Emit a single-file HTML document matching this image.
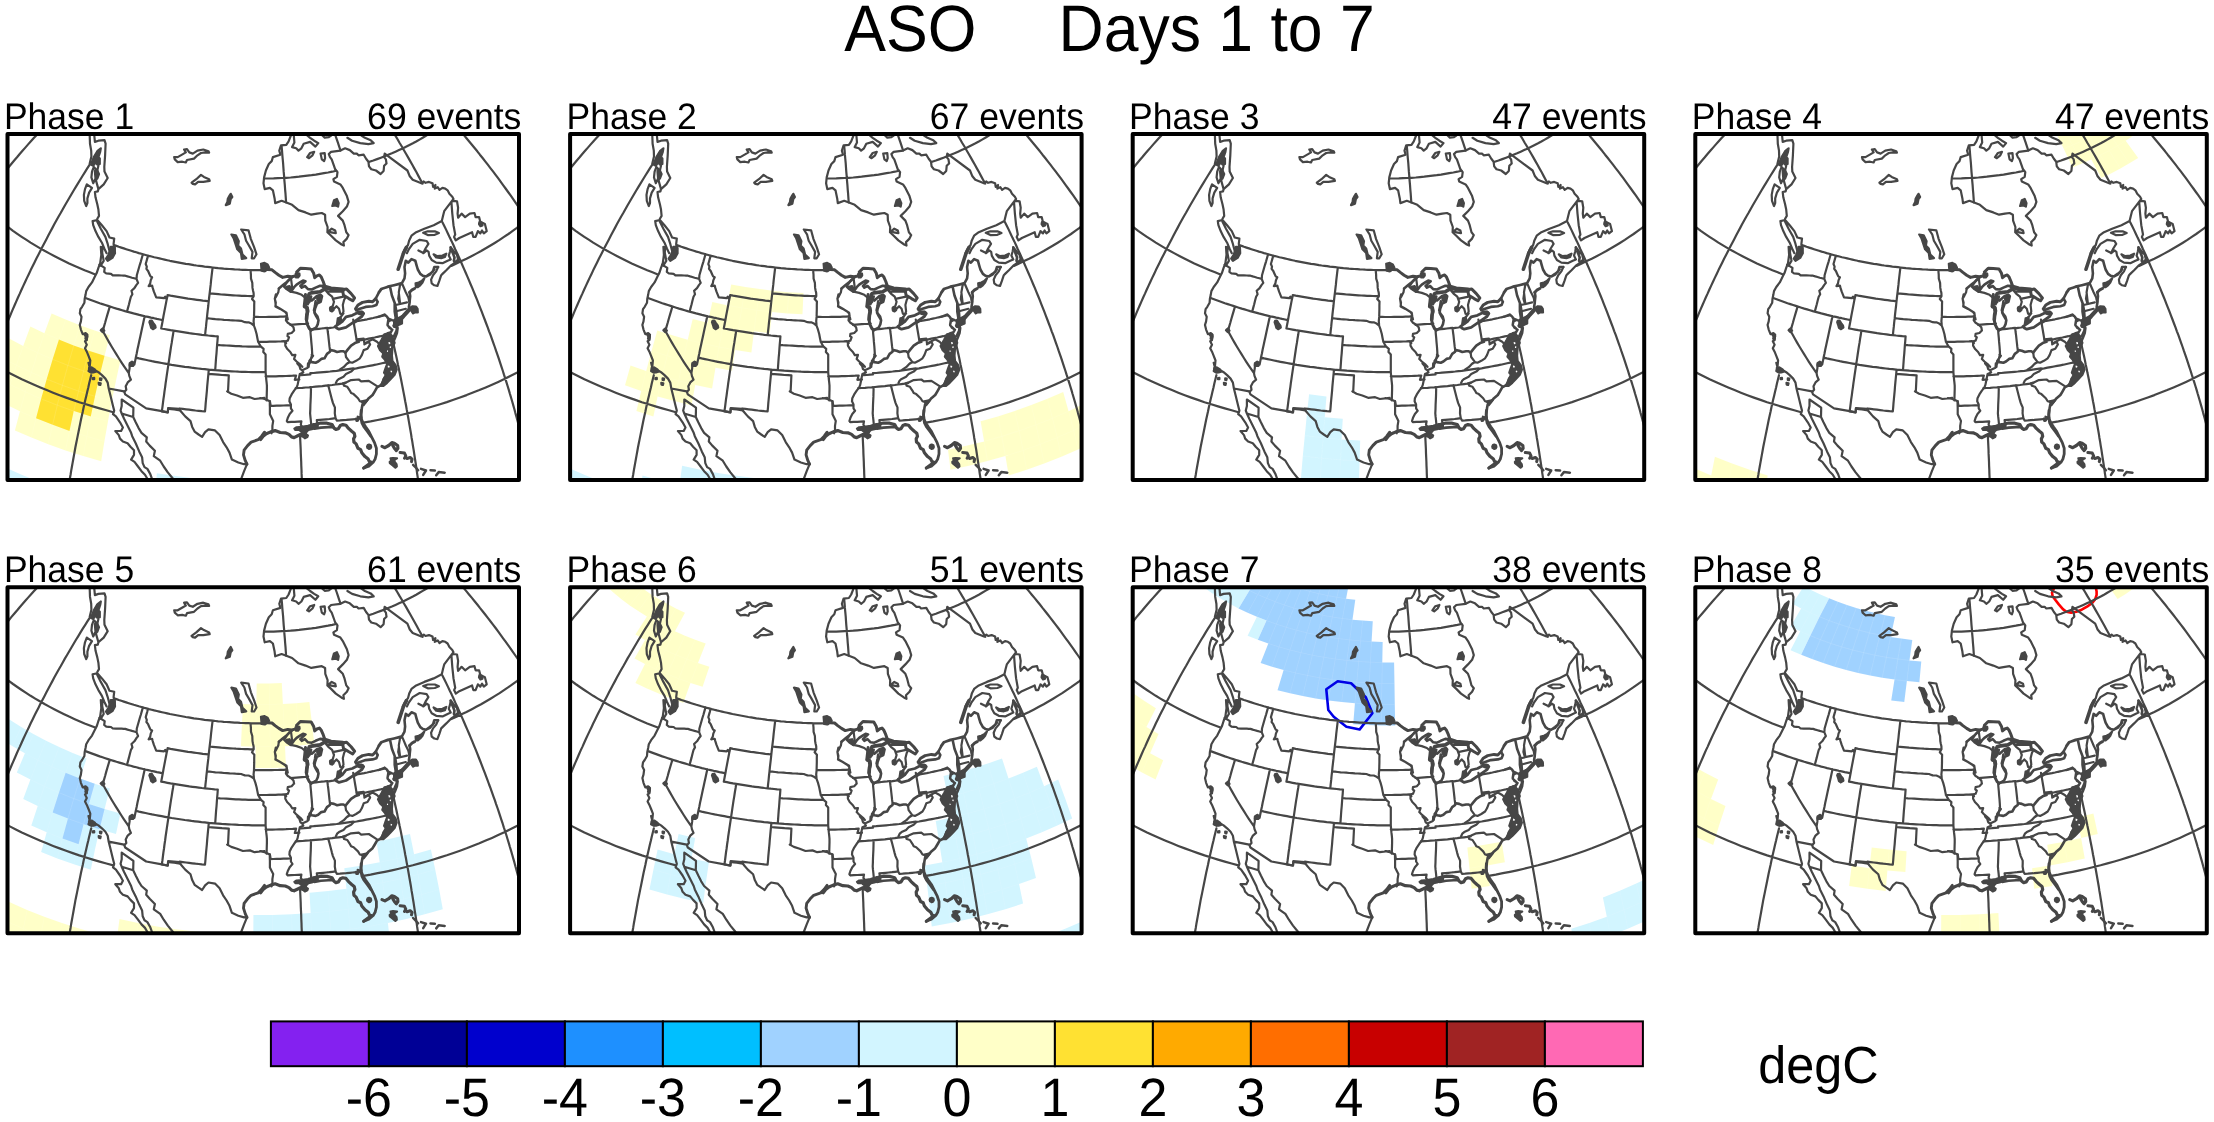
<!DOCTYPE html>
<html><head><meta charset="utf-8"><title>ASO Days 1 to 7</title>
<style>
html,body{margin:0;padding:0;background:#fff;}
body{width:2214px;height:1122px;overflow:hidden;}
svg{display:block;will-change:transform;}
text{font-family:"Liberation Sans",sans-serif;fill:#000;text-rendering:geometricPrecision;}
</style></head><body>
<svg width="2214" height="1122" viewBox="0 0 2214 1122">
<defs>
<clipPath id="pc"><rect x="0" y="0" width="511.5" height="346.0"/></clipPath>
<g id="basemap" fill="none" stroke="#464646" stroke-width="2.2" stroke-linejoin="round" stroke-linecap="round">
<path d="M-71.8,138.5 L-69.8,135.0 L-67.8,131.5 L-65.7,128.0 L-63.6,124.5 L-61.5,121.0 L-59.4,117.5 L-57.2,114.1 L-55.0,110.6 L-52.8,107.1 L-50.6,103.7 L-48.4,100.2 L-46.1,96.8 L-43.8,93.4 L-41.5,89.9 L-39.1,86.5 L-36.8,83.1 L-34.4,79.7 L-32.0,76.3 L-29.5,72.9 L-27.1,69.5 L-24.6,66.2 L-22.1,62.8 L-19.6,59.4 L-17.0,56.1 L-14.5,52.8 L-11.9,49.4 L-9.3,46.1 L-6.7,42.8 L-4.0,39.5 L-1.4,36.3 L1.3,33.0 L4.0,29.7 L6.7,26.5 L9.5,23.3 L12.2,20.0 L15.0,16.8 L17.8,13.6 L20.6,10.4 L23.4,7.3 L26.3,4.1 L29.2,1.0 L32.0,-2.2 L34.9,-5.3 L37.8,-8.4 L40.8,-11.5 L43.7,-14.5 L46.7,-17.6 L49.7,-20.6 L52.7,-23.6 L55.7,-26.6 L58.7,-29.6 L61.8,-32.6 L64.8,-35.6 L67.9,-38.5 L71.0,-41.4 L74.1,-44.3 L77.2,-47.2 L80.3,-50.1 L83.4,-53.0 L86.6,-55.8 L89.8,-58.6 L92.9,-61.4 L96.1,-64.2 L99.3,-66.9 L102.6,-69.7 L105.8,-72.4 L109.0,-75.1 L112.3,-77.8 L115.5,-80.5 L118.8,-83.1 L122.1,-85.7 L125.4,-88.3 L128.7,-90.9 L132.0,-93.5 L135.3,-96.0 L138.6,-98.5 L142.0,-101.0 L145.3,-103.5 L148.7,-105.9 L152.0,-108.4 M-16.0,229.3 L-14.6,225.4 L-13.2,221.5 L-11.8,217.6 L-10.3,213.8 L-8.8,209.9 L-7.3,206.0 L-5.8,202.1 L-4.2,198.2 L-2.7,194.3 L-1.1,190.5 L0.5,186.6 L2.2,182.7 L3.8,178.8 L5.5,174.9 L7.2,171.0 L8.9,167.1 L10.6,163.2 L12.4,159.4 L14.1,155.5 L15.9,151.6 L17.7,147.7 L19.5,143.9 L21.4,140.0 L23.2,136.1 L25.1,132.3 L27.0,128.4 L28.9,124.5 L30.9,120.7 L32.8,116.9 L34.8,113.0 L36.8,109.2 L38.8,105.4 L40.8,101.5 L42.8,97.7 L44.9,93.9 L46.9,90.1 L49.0,86.3 L51.1,82.5 L53.3,78.8 L55.4,75.0 L57.5,71.2 L59.7,67.5 L61.9,63.8 L64.1,60.0 L66.3,56.3 L68.5,52.6 L70.8,48.9 L73.0,45.2 L75.3,41.5 L77.6,37.9 L79.9,34.2 L82.2,30.6 M56.4,385.8 L56.8,382.1 L57.3,378.4 L57.8,374.7 L58.4,370.9 L58.9,367.2 L59.4,363.4 L60.0,359.6 L60.6,355.8 L61.2,352.0 L61.8,348.2 L62.4,344.3 L63.1,340.5 L63.7,336.6 L64.4,332.8 L65.1,328.9 L65.8,325.0 L66.5,321.1 L67.2,317.2 L67.9,313.2 L68.7,309.3 L69.5,305.4 L70.3,301.4 L71.1,297.5 L71.9,293.5 L72.7,289.5 L73.5,285.5 L74.4,281.5 L75.3,277.5 L76.1,273.5 L77.0,269.5 L77.9,265.5 L78.9,261.4 L79.8,257.4 L80.8,253.4 L81.7,249.3 L82.7,245.3 L83.7,241.2 M278.6,68.5 L278.3,64.1 L278.0,59.7 L277.6,55.3 L277.3,50.9 L276.9,46.6 L276.6,42.2 L276.2,37.9 L275.9,33.6 L275.6,29.2 L275.2,25.0 L274.8,20.7 L274.5,16.4 L274.1,12.2 M296.6,414.8 L296.5,411.0 L296.4,407.2 L296.3,403.3 L296.1,399.5 L296.0,395.6 L295.9,391.7 L295.8,387.8 L295.7,383.9 L295.6,380.0 L295.4,376.1 L295.3,372.1 L295.2,368.1 L295.0,364.1 L294.9,360.1 L294.7,356.1 L294.6,352.1 L294.5,348.0 L294.3,344.0 L294.1,339.9 L294.0,335.8 L293.8,331.8 L293.7,327.7 L293.5,323.5 L293.3,319.4 L293.2,315.3 L293.0,311.1 L292.8,307.0 L292.6,302.8 M333.0,16.5 L331.7,12.6 L330.4,8.7 L329.1,4.8 L327.7,0.9 L326.4,-2.9 L325.0,-6.8 L323.7,-10.6 L322.3,-14.4 L321.0,-18.2 L319.6,-22.0 L318.3,-25.8 L316.9,-29.5 L315.5,-33.3 L314.1,-37.0 L312.7,-40.7 L311.3,-44.4 L310.0,-48.1 L308.5,-51.7 L307.1,-55.4 L305.7,-59.0 L304.3,-62.6 L302.9,-66.1 L301.5,-69.7 L300.1,-73.2 L298.6,-76.7 M416.6,396.5 L416.3,392.8 L415.9,389.1 L415.4,385.4 L415.0,381.6 L414.6,377.8 L414.2,374.0 L413.7,370.2 L413.2,366.4 L412.7,362.6 L412.3,358.7 L411.8,354.9 L411.2,351.0 L410.7,347.1 L410.2,343.2 L409.6,339.3 L409.1,335.4 L408.5,331.5 L407.9,327.5 L407.3,323.6 L406.7,319.6 L406.1,315.6 L405.4,311.6 L404.8,307.7 L404.1,303.7 L403.5,299.6 L402.8,295.6 L402.1,291.6 L401.4,287.6 L400.7,283.5 L400.0,279.5 L399.2,275.4 L398.5,271.3 L397.7,267.3 L397.0,263.2 L396.2,259.1 L395.4,255.0 L394.6,250.9 L393.8,246.8 L393.0,242.7 L392.1,238.6 L391.3,234.5 L390.4,230.4 L389.6,226.2 L388.7,222.1 L387.8,218.0 L386.9,213.9 L386.0,209.7 M415.1,49.6 L413.1,45.9 L411.0,42.1 L409.0,38.3 L406.9,34.6 L404.8,30.8 L402.7,27.1 L400.6,23.4 L398.5,19.7 L396.3,16.0 L394.2,12.3 L392.0,8.7 L389.9,5.0 L387.7,1.4 L385.5,-2.2 L383.3,-5.8 L381.1,-9.4 L378.8,-13.0 L376.6,-16.5 L374.4,-20.1 L372.1,-23.6 L369.9,-27.1 L367.6,-30.6 L365.3,-34.1 L363.0,-37.5 L360.8,-41.0 L358.5,-44.4 L356.1,-47.8 L353.8,-51.2 L351.5,-54.6 L349.2,-57.9 L346.8,-61.2 L344.5,-64.5 L342.1,-67.8 L339.8,-71.1 L337.4,-74.4 L335.0,-77.6 L332.6,-80.8 L330.3,-84.0 L327.9,-87.2 M525.7,357.7 L525.1,354.0 L524.4,350.4 L523.7,346.7 L523.0,343.1 L522.3,339.4 L521.6,335.7 L520.8,332.0 L520.0,328.3 L519.2,324.5 L518.4,320.8 L517.5,317.0 L516.6,313.3 L515.8,309.5 L514.8,305.7 L513.9,302.0 L513.0,298.2 L512.0,294.4 L511.0,290.5 L510.0,286.7 L509.0,282.9 L507.9,279.1 L506.9,275.2 L505.8,271.4 L504.7,267.5 L503.6,263.7 L502.4,259.8 L501.3,255.9 L500.1,252.0 L498.9,248.1 L497.7,244.3 L496.4,240.4 L495.2,236.5 L493.9,232.6 L492.6,228.7 L491.3,224.7 L490.0,220.8 L488.6,216.9 L487.3,213.0 L485.9,209.1 L484.5,205.2 L483.1,201.2 L481.6,197.3 L480.2,193.4 L478.7,189.5 L477.2,185.5 L475.7,181.6 L474.2,177.7 L472.7,173.8 L471.1,169.8 L469.6,165.9 L468.0,162.0 L466.4,158.1 L464.8,154.2 L463.1,150.2 L461.5,146.3 L459.8,142.4 L458.1,138.5 L456.4,134.6 L454.7,130.7 L453.0,126.8 L451.3,122.9 L449.5,119.0 L447.7,115.2 L446.0,111.3 L444.2,107.4 L442.3,103.6 L440.5,99.7 L438.7,95.9 L436.8,92.0 L434.9,88.2 M616.4,300.8 L615.5,297.3 L614.7,293.8 L613.7,290.3 L612.8,286.8 L611.8,283.3 L610.8,279.7 L609.8,276.2 L608.8,272.7 L607.7,269.1 L606.6,265.6 L605.5,262.0 L604.3,258.4 L603.1,254.9 L601.9,251.3 L600.7,247.7 L599.4,244.1 L598.1,240.5 L596.8,236.9 L595.5,233.3 L594.1,229.7 L592.7,226.1 L591.3,222.5 L589.9,218.9 L588.4,215.3 L586.9,211.7 L585.4,208.1 L583.8,204.4 L582.3,200.8 L580.7,197.2 L579.1,193.6 L577.4,190.0 L575.8,186.3 L574.1,182.7 L572.3,179.1 L570.6,175.5 L568.8,171.8 L567.1,168.2 L565.2,164.6 L563.4,161.0 L561.5,157.4 L559.7,153.7 L557.8,150.1 L555.8,146.5 L553.9,142.9 L551.9,139.3 L549.9,135.7 L547.9,132.1 L545.9,128.5 L543.8,124.9 L541.7,121.4 L539.6,117.8 L537.5,114.2 L535.3,110.6 L533.1,107.1 L531.0,103.5 L528.7,100.0 L526.5,96.4 L524.3,92.9 L522.0,89.4 L519.7,85.8 L517.4,82.3 L515.0,78.8 L512.7,75.3 L510.3,71.8 L507.9,68.3 L505.5,64.9 L503.1,61.4 L500.6,58.0 L498.1,54.5 L495.6,51.1 L493.1,47.7 L490.6,44.2 L488.1,40.8 L485.5,37.4 L482.9,34.1 L480.3,30.7 L477.7,27.3 L475.1,24.0 L472.4,20.7 L469.8,17.3 L467.1,14.0 L464.4,10.7 L461.7,7.5 L459.0,4.2 L456.2,0.9 L453.5,-2.3 L450.7,-5.5 L447.9,-8.7 L445.1,-11.9 L442.3,-15.1 L439.5,-18.3 L436.6,-21.4 L433.8,-24.6 L430.9,-27.7 L428.0,-30.8 L425.1,-33.9 L422.2,-36.9 L419.3,-40.0 L416.3,-43.0 L413.4,-46.0 L410.4,-49.0 L407.4,-52.0 L404.5,-55.0 L401.5,-57.9 L398.4,-60.9 L395.4,-63.8 L392.4,-66.7 L389.4,-69.5 L386.3,-72.4 L383.3,-75.2 L380.2,-78.0 L377.1,-80.8 L374.0,-83.6 L370.9,-86.3 L367.8,-89.1 L364.7,-91.8 L361.6,-94.5 L358.4,-97.1 L355.3,-99.8 L352.2,-102.4 M-120.0,75.1 L-117.7,72.0 L-115.4,68.9 L-113.0,65.8 L-110.6,62.8 L-108.2,59.7 L-105.7,56.6 L-103.3,53.6 L-100.7,50.5 L-98.2,47.5 L-95.7,44.5 L-93.1,41.4 L-90.5,38.4 L-87.8,35.5 L-85.2,32.5 L-82.5,29.5 L-79.8,26.6 L-77.0,23.6 L-74.3,20.7 L-71.5,17.8 L-68.6,14.9 L-65.8,12.0 L-62.9,9.1 L-60.1,6.2 L-57.1,3.4 L-54.2,0.5 L-51.2,-2.3 L-48.3,-5.1 L-45.2,-7.9 L-42.2,-10.7 L-39.2,-13.4 L-36.1,-16.2 L-33.0,-18.9 L-29.9,-21.6 L-26.7,-24.4 L-23.6,-27.0 L-20.4,-29.7 L-17.2,-32.4 L-14.0,-35.0 L-10.7,-37.6 L-7.4,-40.2 L-4.2,-42.8 L-0.9,-45.4 L2.5,-47.9 L5.8,-50.5 L9.2,-53.0 L12.6,-55.5 L16.0,-58.0 L19.4,-60.4 L22.8,-62.9 L26.3,-65.3 L29.8,-67.7 L33.2,-70.1 L36.7,-72.5 L40.3,-74.8 L43.8,-77.1 L47.4,-79.4 L50.9,-81.7 L54.5,-84.0 L58.1,-86.2 L61.7,-88.5 L65.4,-90.7 L69.0,-92.9 L72.7,-95.0 L76.4,-97.2 L80.0,-99.3 L83.7,-101.4 L87.5,-103.4 L91.2,-105.5 L94.9,-107.5 L98.7,-109.5 L102.4,-111.5 L106.2,-113.5 L110.0,-115.4 L113.8,-117.4 L117.6,-119.2 L121.4,-121.1 L125.3,-123.0 L129.1,-124.8 L133.0,-126.6 L136.8,-128.4 M682.5,229.7 L681.5,226.4 L680.4,223.1 L679.3,219.8 L678.2,216.5 L677.1,213.1 L675.9,209.8 L674.7,206.5 L673.4,203.1 L672.2,199.8 L670.9,196.5 L669.5,193.1 L668.2,189.8 L666.8,186.4 L665.3,183.1 L663.9,179.8 L662.4,176.4 L660.9,173.1 L659.3,169.8 L657.7,166.4 L656.1,163.1 L654.5,159.8 L652.8,156.4 L651.1,153.1 L649.3,149.8 L647.6,146.5 L645.8,143.1 L644.0,139.8 L642.1,136.5 L640.2,133.2 L638.3,129.9 L636.4,126.6 L634.4,123.3 L632.4,120.0 L630.4,116.7 L628.3,113.4 L626.2,110.2 L624.1,106.9 L622.0,103.6 L619.8,100.4 L617.6,97.1 L615.4,93.9 L613.1,90.6 L610.8,87.4 L608.5,84.2 L606.2,81.0 L603.8,77.8 L601.4,74.6 L599.0,71.4 L596.6,68.2 L594.1,65.0 L591.6,61.9 L589.1,58.7 L586.6,55.6 L584.0,52.4 L581.4,49.3 L578.8,46.2 L576.1,43.1 L573.5,40.0 L570.8,36.9 L568.0,33.8 L565.3,30.8 L562.5,27.7 L559.8,24.7 L556.9,21.7 L554.1,18.7 L551.3,15.7 L548.4,12.7 L545.5,9.7 L542.6,6.8 L539.6,3.8 L536.6,0.9 L533.7,-2.0 L530.7,-4.9 L527.6,-7.8 L524.6,-10.7 L521.5,-13.6 L518.4,-16.4 L515.3,-19.2 L512.2,-22.0 L509.0,-24.8 L505.8,-27.6 L502.7,-30.4 L499.5,-33.1 L496.2,-35.9 L493.0,-38.6 L489.7,-41.3 L486.4,-43.9 L483.1,-46.6 L479.8,-49.3 L476.5,-51.9 L473.1,-54.5 L469.8,-57.1 L466.4,-59.6 L463.0,-62.2 L459.6,-64.7 L456.1,-67.3 L452.7,-69.7 L449.2,-72.2 L445.8,-74.7 L442.3,-77.1 L438.8,-79.5 L435.3,-81.9 L431.7,-84.3 L428.2,-86.7 L424.6,-89.0 L421.1,-91.3 L417.5,-93.6 L413.9,-95.9 L410.3,-98.1 L406.6,-100.4 L403.0,-102.6 L399.4,-104.8 L395.7,-106.9 L392.1,-109.1 L388.4,-111.2 L384.7,-113.3 L381.0,-115.3 L377.3,-117.4 L373.6,-119.4 L369.9,-121.4 M257.6,44.5 L261.9,44.5 L266.1,44.4 L270.4,44.2 L274.6,44.0 L278.8,43.8 L283.1,43.5 L287.3,43.1 L291.5,42.7 L295.7,42.2 L299.9,41.7 L304.1,41.2 L308.3,40.6 L312.4,39.9 L316.5,39.2 L320.6,38.5 L324.7,37.7 L328.8,36.8 M362.0,27.8 L365.8,26.5 L369.6,25.1 L373.4,23.7 L377.1,22.3 L380.7,20.8 L384.4,19.3 L388.0,17.7 L391.5,16.1 L395.1,14.5 L398.5,12.8 L402.0,11.0 L405.4,9.3 L408.7,7.5 L412.0,5.6 L415.2,3.7 L418.4,1.8 L421.6,-0.2 L424.7,-2.2 L427.7,-4.2 L430.7,-6.3 L433.7,-8.4 L436.5,-10.6 L439.4,-12.8 L442.1,-15.0 L444.9,-17.3 L447.5,-19.5 L450.1,-21.9 L452.7,-24.2 L455.1,-26.6 L457.6,-29.0 L459.9,-31.4 L462.2,-33.9 L464.4,-36.4 L466.6,-38.9 L468.7,-41.4 L470.7,-44.0 L472.7,-46.6 L474.6,-49.2 L476.5,-51.8 L478.2,-54.5 L479.9,-57.2 L481.6,-59.9 L483.1,-62.6 L484.6,-65.3 L486.0,-68.1 L487.4,-70.8 L488.7,-73.6 L489.9,-76.4 L491.0,-79.2 M-77.7,-4.8 L-76.1,-0.7 L-74.3,3.3 L-72.5,7.3 L-70.5,11.3 L-68.4,15.2 L-66.3,19.2 L-64.0,23.1 L-61.6,27.0 L-59.2,30.8 L-56.6,34.6 L-54.0,38.4 L-51.2,42.2 L-48.3,45.9 L-45.4,49.6 L-42.3,53.2 L-39.2,56.8 L-35.9,60.4 L-32.6,63.9 L-29.2,67.4 L-25.7,70.9 L-22.1,74.3 L-18.4,77.6 L-14.6,81.0 L-10.7,84.2 L-6.8,87.4 L-2.8,90.6 L1.3,93.7 L5.5,96.8 L9.8,99.8 L14.2,102.8 L18.6,105.7 L23.1,108.6 L27.7,111.4 L32.3,114.1 L37.0,116.8 L41.8,119.4 L46.7,122.0 L51.6,124.5 L56.6,127.0 L61.6,129.4 L66.7,131.7 L71.9,134.0 L77.1,136.2 L82.4,138.3 L87.7,140.4 M443.8,131.9 L449.0,129.5 L454.0,127.1 L459.0,124.7 L463.9,122.2 L468.8,119.6 L473.6,117.0 L478.3,114.3 L483.0,111.5 L487.6,108.7 L492.1,105.9 L496.5,102.9 L500.9,100.0 L505.2,96.9 L509.4,93.9 L513.5,90.7 L517.5,87.6 L521.5,84.3 L525.4,81.1 L529.2,77.7 L532.9,74.4 L536.5,71.0 L540.0,67.5 L543.4,64.0 L546.8,60.5 L550.0,56.9 L553.2,53.3 L556.2,49.6 L559.2,45.9 L562.1,42.2 L564.8,38.5 L567.5,34.7 L570.1,30.8 L572.5,27.0 L574.9,23.1 L577.2,19.2 L579.3,15.2 L581.4,11.3 L583.4,7.3 L585.2,3.3 L587.0,-0.8 L588.6,-4.8 M-152.6,82.6 L-150.6,87.5 L-148.5,92.3 L-146.3,97.2 L-143.9,102.0 L-141.4,106.8 L-138.8,111.5 L-136.1,116.2 L-133.3,120.9 L-130.3,125.6 L-127.2,130.2 L-124.0,134.7 L-120.7,139.3 L-117.3,143.8 L-113.8,148.2 L-110.1,152.6 L-106.3,157.0 L-102.5,161.3 L-98.5,165.6 L-94.4,169.8 L-90.2,174.0 L-85.9,178.1 L-81.4,182.2 L-76.9,186.2 L-72.3,190.2 L-67.6,194.1 L-62.7,197.9 L-57.8,201.7 L-52.8,205.4 L-47.7,209.1 L-42.5,212.7 L-37.2,216.3 L-31.8,219.7 L-26.3,223.2 L-20.8,226.5 L-15.1,229.8 L-9.4,233.0 L-3.6,236.1 L2.3,239.2 L8.3,242.2 L14.3,245.2 L20.4,248.0 L26.6,250.8 L32.9,253.5 L39.2,256.1 L45.6,258.7 L52.1,261.2 L58.6,263.6 L65.2,265.9 L71.8,268.2 L78.5,270.3 L85.3,272.4 L92.1,274.4 L98.9,276.3 L105.8,278.2 M355.9,288.6 L363.1,287.4 L370.2,286.0 L377.3,284.6 L384.4,283.1 L391.4,281.5 L398.4,279.8 L405.3,278.1 L412.2,276.2 L419.1,274.3 L425.9,272.3 L432.6,270.2 L439.3,268.1 L446.0,265.8 L452.5,263.5 L459.1,261.1 L465.5,258.6 L471.9,256.1 L478.2,253.4 L484.5,250.7 L490.7,247.9 L496.8,245.1 L502.8,242.1 L508.8,239.1 L514.7,236.1 L520.5,232.9 L526.2,229.7 L531.8,226.4 L537.4,223.1 L542.9,219.6 L548.2,216.2 L553.5,212.6 L558.7,209.0 L563.8,205.3 L568.8,201.6 L573.8,197.8 L578.6,194.0 L583.3,190.1 L587.9,186.1 L592.4,182.1 L596.8,178.0 L601.1,173.9 L605.4,169.7 L609.4,165.5 L613.4,161.2 L617.3,156.9 L621.1,152.5 L624.7,148.1 L628.3,143.7 L631.7,139.2 L635.0,134.7 L638.2,130.1 L641.3,125.5 L644.2,120.8 L647.0,116.1 L649.8,111.4 L652.4,106.7 L654.8,101.9 L657.2,97.1 L659.4,92.3 L661.5,87.4 L663.5,82.5 M133.5,-135.6 L134.1,-134.1 L134.7,-132.7 L135.4,-131.2 L136.1,-129.8 L136.8,-128.4 L137.6,-127.0 L138.4,-125.6 L139.2,-124.2 L140.1,-122.8 L141.0,-121.4 L142.0,-120.0 L143.0,-118.7 L144.0,-117.4 L145.0,-116.0 L146.1,-114.7 L147.2,-113.4 L148.4,-112.1 L149.6,-110.9 L150.8,-109.6 L152.0,-108.4 L153.3,-107.1 L154.6,-105.9 L156.0,-104.7 L157.3,-103.5 L158.7,-102.4 L160.2,-101.2 L161.6,-100.1 L163.1,-99.0 L164.6,-97.9 L166.2,-96.8 L167.8,-95.8 L169.4,-94.7 L171.0,-93.7 L172.6,-92.7 L174.3,-91.7 L176.0,-90.8 L177.7,-89.8 L179.5,-88.9 L181.3,-88.0 L183.0,-87.1 L184.9,-86.3 L186.7,-85.5 L188.6,-84.6 L190.4,-83.9 L192.3,-83.1 L194.3,-82.3 L196.2,-81.6 L198.1,-80.9 L200.1,-80.3 L202.1,-79.6 L204.1,-79.0 L206.1,-78.4 L208.2,-77.8 L210.2,-77.3 L212.3,-76.7 L214.4,-76.2 L216.4,-75.7 L218.5,-75.3 L220.7,-74.9 L222.8,-74.5 L224.9,-74.1 L227.1,-73.7 L229.2,-73.4 L231.4,-73.1 L233.5,-72.8 L235.7,-72.6 L237.9,-72.4 L240.1,-72.2 L242.3,-72.0 L244.5,-71.8 L246.7,-71.7 L248.9,-71.6 L251.1,-71.6 L253.3,-71.5 L255.5,-71.5 L257.7,-71.5 L259.9,-71.6 L262.1,-71.6 L264.3,-71.7 L266.5,-71.8 L268.7,-72.0 L270.8,-72.2 L273.0,-72.4 L275.2,-72.6 L277.4,-72.8 L279.5,-73.1 L281.7,-73.4 L283.9,-73.7 L286.0,-74.1 L288.1,-74.5 L290.3,-74.9 L292.4,-75.3 L294.5,-75.7 L296.6,-76.2 L298.6,-76.7 L300.7,-77.3 L302.7,-77.8 L304.8,-78.4 L306.8,-79.0 L308.8,-79.6 L310.8,-80.3 L312.8,-80.9 L314.7,-81.6 L316.7,-82.4 L318.6,-83.1 L320.5,-83.9 L322.4,-84.7 L324.2,-85.5 L326.1,-86.3 L327.9,-87.2 L329.7,-88.0 L331.4,-88.9 L333.2,-89.8 L334.9,-90.8 L336.6,-91.7 L338.3,-92.7 L339.9,-93.7 L341.6,-94.7 L343.2,-95.8 L344.7,-96.8 L346.3,-97.9 L347.8,-99.0 L349.3,-100.1 L350.7,-101.2 L352.2,-102.4 L353.6,-103.6 L354.9,-104.7 L356.3,-105.9 L357.6,-107.1 L358.9,-108.4 L360.1,-109.6 L361.3,-110.9 L362.5,-112.2 L363.7,-113.4 L364.8,-114.7 L365.9,-116.1 L366.9,-117.4 L367.9,-118.7 L368.9,-120.1 L369.9,-121.4 L370.8,-122.8 L371.7,-124.2 L372.5,-125.6 L373.3,-127.0 L374.1,-128.4 L374.8,-129.8 L375.5,-131.2 L376.2,-132.7 L376.8,-134.1 L377.4,-135.6 M-199.6,177.0 L-197.4,182.4 L-195.1,187.8 L-192.6,193.2 L-190.0,198.5 L-187.3,203.8 L-184.4,209.1 L-181.4,214.3 L-178.2,219.5 L-174.9,224.7 L-171.5,229.8 L-168.0,234.9 L-164.3,239.9 L-160.5,244.9 L-156.6,249.9 L-152.6,254.8 L-148.4,259.6 L-144.1,264.4 L-139.7,269.2 L-135.1,273.9 L-130.5,278.5 L-125.7,283.1 L-120.8,287.6 L-115.8,292.1 L-110.7,296.5 L-105.4,300.8 L-100.1,305.1 L-94.7,309.3 L-89.1,313.5 L-83.4,317.5 L-77.7,321.6 L-71.8,325.5 L-65.8,329.4 L-59.8,333.2 L-53.6,336.9 L-47.4,340.6 L-41.0,344.2 L-34.6,347.7 L-28.1,351.1 L-21.4,354.4 L-14.8,357.7 L-8.0,360.9 L-1.1,364.0 L5.8,367.0 L12.8,370.0 L19.9,372.8 L27.1,375.6 L34.3,378.3 L41.6,380.9 L49.0,383.4 L56.4,385.8 L63.9,388.1 L71.4,390.4 L79.0,392.5 L86.6,394.6 L94.3,396.6 L102.1,398.5 L109.9,400.2 L117.7,401.9 L125.6,403.5 L133.6,405.0 L141.5,406.4 L149.5,407.8 L157.5,409.0 L165.6,410.1 L173.7,411.1 L181.8,412.0 L189.9,412.9 L198.1,413.6 L206.2,414.3 L214.4,414.8 L222.6,415.2 L230.8,415.6 L239.1,415.8 L247.3,416.0 L255.5,416.0 L263.7,416.0 L271.9,415.8 L280.2,415.6 L288.4,415.2 L296.6,414.8 L304.7,414.2 L312.9,413.6 L321.1,412.9 L329.2,412.0 L337.3,411.1 L345.4,410.1 L353.5,409.0 L361.5,407.7 L369.5,406.4 L377.4,405.0 L385.4,403.5 L393.2,401.9 L401.1,400.2 L408.9,398.4 L416.6,396.5 L424.3,394.6 L432.0,392.5 L439.6,390.4 L447.1,388.1 L454.6,385.8 L462.0,383.4 L469.4,380.8 L476.7,378.2 L483.9,375.6 L491.1,372.8 L498.1,369.9 L505.2,367.0 L512.1,364.0 L518.9,360.8 L525.7,357.7 L532.4,354.4 L539.0,351.0 L545.6,347.6 L552.0,344.1 L558.3,340.5 L564.6,336.9 L570.7,333.1 L576.8,329.3 L582.8,325.5 L588.6,321.5 L594.4,317.5 L600.1,313.4 L605.6,309.3 L611.1,305.0 L616.4,300.8 L621.6,296.4 L626.7,292.0 L631.7,287.5 L636.6,283.0 L641.4,278.4 L646.1,273.8 L650.6,269.1 L655.0,264.4 L659.3,259.6 L663.5,254.7 L667.5,249.8 L671.5,244.9 L675.3,239.9 L678.9,234.8 L682.5,229.7 L685.9,224.6 L689.2,219.5 L692.3,214.3 L695.3,209.0 L698.2,203.7 L700.9,198.4 L703.5,193.1 L706.0,187.7 L708.4,182.3 L710.6,176.9"/>
<path d="M106.4,111.0 L108.9,111.9 L111.3,112.8 L113.8,113.6 L116.3,114.4 L118.7,115.2 L121.2,116.0 L123.7,116.8 L126.3,117.6 L128.8,118.3 L131.3,119.1 L133.9,119.8 L136.4,120.5 L139.0,121.2 L141.5,121.9 L144.1,122.5 L146.7,123.2 L149.3,123.8 L151.9,124.4 L154.5,125.0 L157.1,125.6 L159.7,126.2 L162.4,126.8 L165.0,127.3 L167.7,127.8 L170.3,128.3 L173.0,128.8 L175.6,129.3 L178.3,129.8 L181.0,130.2 L183.7,130.6 L186.3,131.1 L189.0,131.5 L191.7,131.8 L194.4,132.2 L197.1,132.6 L199.9,132.9 L202.6,133.2 L205.3,133.5 L208.0,133.8 L210.7,134.1 L213.5,134.3 L216.2,134.6 L218.9,134.8 L221.7,135.0 L224.4,135.2 L227.1,135.4 L229.9,135.5 L232.6,135.7 L235.4,135.8 L238.1,135.9 L240.9,136.0 L243.6,136.1 L246.4,136.1 L249.1,136.2 L251.9,136.2 L254.6,136.2 M135.4,120.2 L134.4,123.7 L133.4,127.3 L132.3,130.8 L131.3,134.3 L130.3,137.8 L129.3,141.3 L129.2,143.2 L129.0,144.9 L130.6,148.9 L128.8,151.1 L126.9,154.1 L124.0,156.8 L124.9,160.2 L123.4,162.8 L122.4,166.5 L121.5,170.2 L120.5,173.9 L119.5,177.6 M92.0,130.6 L93.4,131.5 L94.8,132.4 L97.2,133.9 L96.7,137.8 L98.8,139.5 L101.1,139.6 L103.5,139.8 L105.3,141.3 L108.3,141.4 L111.2,141.4 L114.2,141.5 L116.0,141.6 L117.8,141.7 L120.0,142.4 L122.2,143.0 L124.5,143.7 L126.7,144.3 L129.0,144.9 M78.6,164.2 L81.3,165.2 L84.0,166.2 L86.8,167.2 L89.5,168.2 L92.2,169.2 L95.0,170.1 L97.8,171.0 L100.5,171.9 L103.3,172.8 L106.1,173.7 L109.0,174.6 L111.8,175.4 L114.6,176.2 L117.5,177.1 L120.3,177.9 L123.2,178.6 L126.0,179.4 L128.9,180.1 L131.8,180.9 L134.7,181.6 L137.6,182.3 L140.6,182.9 L143.5,183.6 L146.4,184.2 L149.4,184.9 L152.3,185.5 L155.3,186.1 M102.3,172.5 L101.1,176.6 L99.9,180.6 L98.7,184.7 L97.6,188.8 L96.4,192.9 L95.3,196.9 L97.4,200.8 L99.6,204.7 L101.8,208.6 L104.1,212.5 L106.4,216.3 L108.8,220.2 L111.2,224.0 L113.6,227.8 L116.1,231.6 L118.7,235.4 L121.3,239.2 M128.3,223.6 L127.6,227.1 L126.9,230.6 L124.6,230.6 L122.2,230.6 L122.1,234.2 L121.7,236.7 L121.3,239.2 L121.8,241.9 L123.4,245.7 L120.2,248.4 L118.2,252.2 L118.8,255.8 L117.0,257.8 M137.2,182.2 L136.3,186.3 L135.4,190.5 L134.5,194.6 L133.6,198.8 L132.7,202.9 L131.8,207.1 L130.9,211.2 L130.0,215.3 L129.2,219.5 L128.3,223.6 M128.3,223.6 L131.5,224.4 L134.8,225.1 L138.0,225.8 L141.2,226.5 L144.5,227.2 L147.7,227.8 L151.0,228.4 L154.2,229.0 L157.5,229.6 L160.8,230.2 L164.1,230.8 L167.4,231.3 L170.7,231.8 L174.0,232.3 L177.3,232.8 L180.6,233.2 L184.0,233.7 L187.3,234.1 L190.6,234.5 L194.0,234.9 L197.3,235.2 L200.7,235.6 L204.0,235.9 L207.4,236.2 L210.7,236.4 L214.1,236.7 L217.5,236.9 L220.9,237.1 L224.2,237.3 L227.6,237.5 L231.0,237.7 L234.4,237.8 L237.8,237.9 L241.1,238.0 L244.5,238.1 L247.9,238.2 L251.3,238.2 L254.7,238.2 L258.1,238.2 M159.2,165.4 L158.4,169.6 L157.6,173.7 L156.8,177.9 L156.0,182.0 L155.3,186.1 L154.5,190.3 L153.7,194.4 M155.3,186.1 L154.5,190.3 L153.7,194.4 L156.8,195.0 L159.9,195.6 L163.0,196.2 L166.1,196.7 L169.2,197.2 L172.4,197.7 L175.5,198.2 L178.6,198.7 L181.8,199.2 L184.9,199.6 L188.1,200.0 L191.2,200.4 L194.4,200.8 L197.6,201.1 L200.8,201.5 L203.9,201.8 L207.1,202.1 L210.3,202.3 M140.5,121.6 L139.8,124.4 L139.0,127.2 L138.2,130.0 L139.3,132.7 L138.9,134.8 L140.6,137.0 L141.9,140.0 L143.0,142.4 L144.6,143.3 L143.2,146.4 L142.7,149.4 L141.2,152.1 L142.9,151.8 L144.6,151.6 L145.2,153.9 L146.4,157.7 L147.4,160.1 L148.7,163.4 L151.7,163.6 L154.1,163.9 L156.5,164.2 L157.7,162.7 L159.2,165.4 L159.7,163.2 L160.1,161.0 L163.0,161.6 L165.9,162.1 L168.8,162.6 L171.7,163.1 L174.7,163.6 L177.6,164.1 L180.5,164.6 L183.5,165.0 L186.4,165.4 L189.4,165.8 L192.3,166.2 L195.3,166.6 L198.3,166.9 L201.2,167.3 M205.1,133.5 L204.6,137.7 L204.1,141.9 L203.6,146.1 L203.2,150.4 L202.7,154.6 L202.2,158.8 L201.7,163.0 L201.2,167.3 L200.8,171.5 L200.3,175.7 L199.8,180.0 L199.4,184.2 L198.9,188.4 L198.5,192.7 L198.0,196.9 L197.6,201.1 M202.1,159.3 L205.0,159.6 L208.0,159.9 L210.9,160.2 L213.8,160.5 L216.8,160.7 L219.7,160.9 L222.6,161.1 L225.6,161.3 L228.5,161.5 L231.5,161.6 L234.4,161.8 L237.4,161.9 L240.3,162.0 L243.3,162.1 L246.2,162.1 M199.4,184.2 L202.2,184.5 L205.1,184.8 L207.9,185.1 L210.8,185.3 L213.6,185.5 L216.5,185.8 L219.4,186.0 L222.2,186.2 L225.1,186.3 L228.0,186.5 L230.8,186.6 L233.7,186.8 L235.5,187.5 L237.4,188.2 L239.3,188.3 L241.1,188.3 L243.3,189.2 L246.4,191.5 M166.1,196.7 L165.5,200.8 L164.8,204.8 L164.2,208.9 L163.5,212.9 L162.9,217.0 L162.3,221.0 L161.7,225.1 L161.1,229.1 L160.5,233.2 L159.9,237.2 L159.3,241.2 L158.7,245.3 L158.1,249.3 L157.6,253.3 L157.0,257.3 L156.5,261.3 L155.9,265.3 L155.4,269.3 L154.9,273.3 L154.3,277.3 M210.3,202.3 L210.0,206.6 L209.6,210.8 L209.3,215.1 L209.0,219.3 L208.6,223.5 L208.3,227.7 L208.0,232.0 L207.7,236.2 M209.6,210.8 L212.7,211.1 L215.9,211.3 L219.0,211.5 L222.1,211.7 L225.2,211.9 L228.4,212.1 L231.5,212.2 L234.6,212.4 L237.8,212.5 L240.9,212.6 L244.0,212.6 L247.2,212.7 L250.3,212.7 L253.5,212.7 M201.3,235.6 L200.9,239.8 L200.5,244.0 L200.1,248.2 L199.7,252.4 L199.4,256.6 L199.0,260.8 L198.6,265.0 L198.2,269.1 L197.9,273.3 L197.5,277.5 L194.3,277.2 L191.1,276.8 L188.0,276.5 L184.8,276.1 L181.6,275.7 L178.5,275.3 L175.3,274.9 L172.2,274.5 L172.6,276.4 L169.6,276.0 L166.7,275.5 L163.7,275.1 L160.7,274.6 L160.3,278.3 L157.3,277.8 L154.3,277.3 M200.9,239.8 L204.3,240.1 L207.7,240.4 L211.1,240.7 L214.5,241.0 L217.9,241.2 L221.3,241.4 L221.1,245.5 L220.9,249.6 L220.7,253.7 L220.5,257.8 M258.1,238.2 L258.1,234.6 L258.1,231.1 L258.1,227.5 L258.1,224.0 L258.1,220.4 L255.8,217.9 L256.1,214.9 L253.5,212.7 L252.0,210.2 L250.6,207.6 L249.9,204.2 L249.1,200.0 L247.9,195.7 L246.4,191.5 L246.3,189.3 L246.1,187.1 L246.5,182.9 L246.6,179.1 L246.7,175.2 L246.7,171.4 L246.8,167.6 L244.5,165.0 L246.2,162.1 L246.1,159.1 L245.5,156.5 L245.0,153.9 L244.9,151.4 L244.8,148.8 L243.5,144.6 L243.4,140.3 L243.0,136.1 M246.5,182.9 L249.5,182.9 L252.4,183.0 L255.3,183.0 L258.3,183.0 L261.2,182.9 L264.1,182.9 L267.1,182.8 L270.0,182.8 L272.9,182.7 L275.9,182.6 L278.8,182.4 M250.5,207.8 L253.4,207.8 L256.3,207.8 L259.2,207.8 L262.1,207.7 L265.0,207.6 L267.9,207.6 L270.8,207.5 L273.7,207.4 L276.6,207.2 L278.7,209.0 M258.1,242.4 L261.5,242.4 L264.9,242.4 L268.3,242.3 L271.7,242.2 L275.1,242.1 L278.5,242.0 L281.9,241.8 L285.2,241.7 L288.6,241.5 L287.3,245.8 L289.6,245.6 L291.9,245.5 M258.1,238.2 L258.4,241.6 L258.7,245.0 L259.1,248.3 L259.4,251.7 L259.4,255.4 L259.3,259.1 L259.2,262.8 L259.1,266.5 M262.3,271.9 L265.8,271.8 L269.2,271.7 L272.6,271.7 L276.0,271.5 L279.4,271.4 L282.8,271.3 M262.3,267.2 L262.3,270.5 L262.4,273.7 L262.4,277.0 L262.4,280.2 L264.0,283.5 L265.7,286.9 L265.3,289.4 L264.9,291.9 L264.9,296.0 L264.0,299.3 M288.2,254.2 L291.6,254.0 L294.9,253.8 L298.2,253.5 L301.5,253.3 L304.9,253.0 L308.2,252.7 L311.5,252.4 L314.8,252.1 L318.1,251.7 L321.4,251.3 L324.7,251.0 L328.0,250.5 L331.3,250.1 L334.6,249.7 L337.9,249.2 M293.4,241.2 L296.6,241.0 L299.8,240.7 L302.9,240.5 L302.8,239.2 L306.1,239.0 L309.4,238.7 L312.7,238.4 L316.0,238.1 L319.3,237.8 L322.5,237.5 L325.8,237.1 L329.1,236.8 L332.3,236.4 L335.7,235.9 L339.0,235.4 L342.4,234.9 L345.7,234.4 M345.8,234.8 L349.0,234.3 L352.2,233.7 L355.4,233.1 L358.6,232.5 L361.8,231.9 L365.0,231.3 L368.1,230.7 L371.3,230.0 L374.5,229.3 L377.6,228.6 L380.8,227.9 L383.9,227.2 M302.8,253.2 L303.5,253.9 L303.4,258.2 L303.3,262.4 L303.1,266.6 L302.9,270.8 L302.8,275.1 L302.6,279.3 L302.9,282.7 L303.3,286.1 L303.6,289.5 L303.9,292.9 M320.7,251.4 L321.7,254.9 L322.6,258.4 L323.5,261.9 L324.4,265.4 L325.4,268.9 L326.4,271.2 L327.4,273.4 L327.4,276.4 L327.3,279.3 L327.7,281.8 L328.1,284.2 L329.3,286.6 L332.5,286.4 L335.7,286.1 L338.9,285.9 L342.1,285.6 L345.3,285.3 L348.5,285.0 L349.8,286.6 L351.8,284.8 L353.8,283.1 M328.1,284.2 L325.0,284.6 L321.9,285.0 L318.7,285.3 L315.6,285.6 L312.5,285.9 L309.3,286.2 L309.8,289.2 L310.3,292.1 M280.3,288.1 L283.7,287.9 L287.1,287.8 L290.5,287.6 L293.9,287.4 L293.3,290.8 L295.7,294.1 M322.5,216.3 L322.0,212.7 L321.6,209.0 L321.2,205.3 L320.8,201.7 L320.3,198.0 L319.9,194.4 M302.8,195.7 L305.7,195.4 L308.5,195.1 L311.4,194.8 L314.2,194.5 L317.0,194.2 L319.9,193.8 L319.9,194.4 L322.7,193.9 L325.6,193.5 L328.4,193.0 M302.8,195.7 L303.1,199.8 L303.5,203.8 L303.8,207.9 L304.2,212.0 L304.5,216.1 L304.7,219.9 L303.7,224.2 L302.9,226.9 L302.1,229.5 M282.8,190.8 L285.8,190.6 L288.7,190.4 L291.7,190.2 L294.7,190.0 L297.6,189.8 L300.6,189.5 M345.7,185.6 L346.3,189.2 L346.9,192.7 L347.5,196.3 L348.1,199.8 L348.7,203.4 L349.3,207.0 L352.3,206.4 L355.3,205.9 L358.3,205.3 L361.2,204.7 L364.2,204.1 L367.2,203.5 L370.1,202.8 L373.1,202.2 L376.0,201.5 L378.9,200.8 M350.8,187.0 L353.8,186.4 L356.7,185.9 L359.7,185.3 L362.7,184.6 L365.6,184.0 L368.6,183.3 L371.5,182.7 L374.5,182.0 L377.4,181.3"/>
<path d="M82.2,1.5 L82.5,9.7 L83.7,16.6 L83.9,22.5 L82.2,29.5 M86.8,1.5 L87.4,7.9 L90.9,6.7 L97.0,6.2 L98.1,9.7 L97.6,21.3 L96.8,33.0 L97.0,37.6 L100.2,44.0 L96.2,50.4 L90.9,55.1 L90.3,57.4 L87.4,58.0 L88.0,63.3 L89.8,70.2 L90.9,75.5 L91.5,81.9 L89.8,84.8 M86.3,33.0 L84.5,37.6 L83.9,43.4 L85.7,49.3 L88.0,44.6 L87.4,37.6 L88.0,34.7Z M90.9,31.8 L89.8,36.5 L88.6,46.9 L90.9,55.1 M79.3,50.4 L84.5,53.9 L81.6,58.6 L79.9,64.4 L79.9,69.1 L78.7,72.0 L76.7,66.8 L76.4,60.9 L77.5,55.1Z M85.1,87.1 L89.8,86.0 L94.4,91.2 L99.1,97.1 L102.0,103.5 L106.7,104.6 L106.1,109.9 L107.2,114.5 L106.7,119.2 M85.1,87.1 L85.7,91.2 L88.0,97.1 L90.9,102.9 L94.4,108.7 L96.8,114.5 L99.1,119.2 M89.8,87.7 L93.3,94.7 L97.9,102.9 L100.2,109.9 L102.0,116.9 M166.7,23.1 L170.2,23.1 L175.4,20.1 L178.3,18.4 L176.6,15.5 L179.5,15.2 L181.8,18.4 L185.3,19.6 L190.0,16.6 L195.8,15.5 L201.0,17.2 L201.6,18.7 L197.6,18.4 L193.5,19.0 L190.0,21.3 L186.5,24.6 L179.5,26.0 L178.3,28.5 L174.8,27.7 L170.2,28.1 L167.3,25.4Z M184.1,48.7 L188.8,45.2 L193.5,40.9 L196.4,42.9 L201.6,45.2 L202.2,46.9 L195.8,47.9 L190.6,47.9 L187.6,50.4 L185.3,49.9Z M283.4,1.5 L281.1,7.3 L278.8,10.8 L273.5,11.4 L271.8,16.6 L272.9,20.7 L265.4,23.1 L264.2,27.1 L261.3,30.0 L258.4,36.5 L256.6,43.4 L256.0,49.3 L257.2,55.1 L262.4,53.9 L265.4,56.3 L267.1,64.4 L267.7,69.1 L274.1,66.8 L278.8,68.5 L284.6,70.8 L291.0,76.1 L298.0,78.4 L303.8,80.7 L309.6,79.6 L314.3,79.0 L317.6,80.7 L317.8,86.6 L320.1,93.0 L319.9,98.2 L323.6,101.7 L328.3,106.4 L334.1,110.5 L336.4,111.6 L335.9,108.1 L339.4,104.6 L341.1,101.1 L338.8,98.2 L337.0,91.2 L335.3,86.6 L330.6,81.9 L335.3,77.2 L339.4,72.6 L341.1,67.9 L339.4,62.1 L335.3,53.9 L332.9,50.4 L326.5,47.5 L325.9,45.2 L329.4,42.9 L330.0,38.2 L327.7,35.3 L326.5,31.8 L324.2,25.4 L322.5,23.1 L321.3,20.1 L323.6,17.8 L332.9,16.6 L337.6,14.3 L342.3,16.1 L346.3,19.6 L349.3,19.6 L351.0,21.3 L356.2,20.7 L358.6,24.8 L360.9,27.7 L361.5,32.4 L363.8,35.3 L368.5,36.5 L373.1,40.0 L376.1,37.0 L376.6,31.8 L379.0,29.5 L378.4,25.4 L376.6,23.1 L377.2,19.6 L399.9,36.5 L402.3,42.3 L405.2,45.8 L413.9,49.3 L416.3,47.5 L418.0,48.8 L421.5,47.9 L425.0,49.3 L425.6,52.8 L427.9,51.0 L427.3,54.6 L430.2,53.2 L432.0,55.8 L434.9,53.9 L437.8,54.6 L440.1,56.3 L441.9,59.8 L444.8,62.8 L446.0,65.0 L440.1,72.6 L436.7,77.2 L435.5,81.9 L434.3,87.1 L426.2,91.2 L416.8,94.7 L408.7,98.2 L404.0,101.7 L401.7,106.4 L400.5,111.0 L397.0,115.7 L395.3,119.2 M286.3,1.5 L286.9,8.5 L284.6,13.1 L288.7,14.3 L291.0,16.6 L293.9,14.3 L296.2,9.7 L302.6,7.9 L307.9,12.6 L310.8,9.1 L306.7,6.7 L302.6,3.8 L299.7,1.5 M314.9,1.5 L317.2,3.6 L321.3,3.2 L323.6,1.5 M339.9,3.8 L344.6,6.7 L352.8,9.1 L360.9,10.2 L366.2,9.1 L363.2,6.2 L357.4,3.8 L353.9,1.5 M299.7,23.1 L302.6,19.0 L306.7,17.8 L305.0,21.3 L301.5,24.2Z M313.1,19.6 L317.2,19.2 L317.6,24.2 L316.6,27.1 L314.3,25.4Z M321.3,97.1 L324.2,94.7 L327.7,96.5 L328.3,99.1 L323.6,98.4Z M446.0,66.8 L449.5,67.3 L450.6,73.7 L450.1,79.6 L450.6,83.7 L454.1,79.6 L457.6,83.1 L462.3,79.6 L467.0,79.0 L468.1,83.1 L471.6,83.1 L472.8,87.7 L477.4,90.1 L479.2,97.1 L476.3,99.4 L474.5,96.5 L472.8,99.4 L470.4,97.1 L468.1,102.9 L465.8,102.9 L464.6,98.2 L451.8,104.0 L448.3,106.4 L446.6,102.9 L447.7,100.5 L446.0,91.2 L444.8,79.6 L443.9,67.9Z M415.7,98.8 L420.3,97.3 L427.3,97.3 L431.4,99.1 L427.3,100.8 L420.3,101.1Z M399.4,119.2 L401.1,115.7 L405.2,109.9 L412.2,105.8 L419.2,107.0 L420.9,109.9 L418.0,114.5 L415.7,119.2 M93.3,112.8 L93.8,121.0 L92.7,129.1 L90.9,133.8 L89.2,139.1 L87.4,142.6 L84.5,148.4 L81.0,153.0 L78.7,157.1 L78.1,160.6 L77.2,164.7 L76.9,168.8 L74.6,172.8 L72.9,175.2 L72.3,179.3 L74.0,182.8 L73.4,187.4 L72.3,190.9 L73.4,195.6 L75.2,200.2 L78.1,199.1 L79.9,200.8 L79.3,206.1 L77.5,207.2 L79.3,210.7 L77.5,214.2 L79.3,217.7 L81.0,221.8 L82.8,226.5 L82.2,232.9 M95.0,112.8 L94.7,118.7 L96.2,126.8 L93.3,131.5 M81.0,228.8 L82.2,233.5 L81.0,237.0 L83.9,238.7 L88.0,236.4 L90.9,238.2 L94.4,241.1 L97.9,244.6 L100.2,248.6 L101.2,254.5 L103.2,262.6 L105.5,272.0 L106.7,276.6 L105.5,280.1 L108.4,282.4 L112.5,288.3 L115.4,293.5 L113.6,297.0 L107.8,297.0 L111.3,301.1 L112.5,304.6 L115.4,307.5 L120.1,309.2 L123.0,312.7 L126.5,316.2 L126.5,320.9 L123.6,325.6 L127.0,327.9 L130.5,332.5 L134.0,337.2 L137.5,340.7 L139.9,344.8 M101.2,254.5 L116.6,257.4 L117.7,260.3 L138.7,274.3 L154.4,277.2 L160.3,278.4 L160.6,274.0 L171.9,274.9 M114.2,265.5 L125.9,273.7 L125.7,283.0 L114.2,279.5 L113.1,276.6 L114.2,272.0Z M114.2,279.5 L116.6,284.8 L120.1,291.8 L123.6,298.8 L124.7,302.2 L128.2,309.2 L131.7,317.4 L134.6,323.2 L135.2,329.1 L137.0,333.1 L139.9,334.9 L142.8,340.1 L144.5,344.8 M125.7,283.0 L128.2,288.3 L131.1,294.1 L134.0,298.8 L139.3,303.4 L138.7,307.5 L142.2,311.6 L147.4,316.8 L146.3,322.1 L152.7,326.7 L156.2,332.5 L160.3,338.4 L165.5,344.8 M171.9,274.9 L173.7,277.8 L177.7,282.4 L183.0,287.1 L184.7,292.9 L187.1,297.6 L191.1,300.5 L194.6,302.8 L197.6,298.2 L201.0,295.3 L207.5,296.4 L212.1,301.1 L215.6,308.1 L219.1,313.3 L222.0,318.6 L224.4,325.6 L230.8,328.5 L236.6,330.2 L239.5,329.6 M239.5,330.2 L236.6,337.2 L233.7,344.8 M219.7,257.4 L223.8,259.7 L229.6,261.5 L235.4,263.8 L242.4,263.2 L247.1,265.0 L257.0,263.8 M289.8,229.4 L292.0,231.9 L292.9,235.1 L294.8,236.3 L295.8,238.5 L292.3,240.1 L291.7,242.7 L291.0,246.5 L290.1,250.9 L289.1,253.4 L286.6,256.6 L284.1,260.4 L282.2,264.2 L281.9,267.3 L283.4,270.5 L283.4,274.3 L285.0,276.8 L282.2,280.0 L280.3,283.8 L279.3,287.0 L280.0,287.9 M300.5,229.4 L300.2,233.8 L297.4,235.1 L294.8,236.3 M332.2,235.7 L336.0,233.2 L339.1,230.0 L340.1,229.1 M328.4,249.0 L329.6,246.5 L331.5,244.9 L336.0,242.7 L338.5,240.1 L343.6,237.6 L346.1,235.1 M335.3,249.6 L338.5,248.4 L343.6,246.1 L351.2,245.5 L353.7,247.4 L361.3,246.8 L369.5,252.2 M336.0,250.3 L336.6,251.8 L339.8,252.8 L342.3,256.6 L343.6,259.1 L346.1,260.1 L350.5,264.2 L352.4,267.3 L355.0,268.0 M252.5,264.0 L257.2,265.0 L262.4,267.3 L263.0,270.8 M348.6,284.6 L349.0,286.8 L350.5,286.5 L350.2,282.7 L352.4,283.3 M283.4,143.7 L284.7,153.9 L283.4,157.7 M281.5,145.3 L276.5,152.6 L279.0,155.1 L282.8,157.7 M317.0,155.1 L320.2,157.7 L328.4,157.7 L335.3,157.7 M326.5,164.6 L336.0,162.7 M317.0,155.1 L320.8,159.6 L324.6,162.7 L326.5,167.8 L325.2,172.2 L322.7,173.5 M326.5,174.8 L329.0,172.2 L331.5,174.8 L332.8,179.8 L334.7,180.5 L336.0,177.3 L335.3,171.0 L336.6,165.9 L337.9,163.4 L336.0,161.5 M271.4,154.5 L270.8,158.3 L268.9,162.1 L267.3,164.6 L267.9,168.4 L268.3,172.2 L272.7,174.8 L279.0,178.6 L279.6,182.4 L280.3,185.5 M283.4,157.7 L289.1,158.9 L294.2,160.8 L298.0,164.0 L299.9,164.6 M430.6,133.0 L428.7,137.4 L425.5,141.2 L423.6,145.6 L424.2,149.4 L426.8,151.3 L429.9,152.0 L431.8,146.9 L433.7,141.2 L435.0,139.9 L438.8,136.2 L443.2,131.7 L447.6,128.6 L450.8,126.7 M410.9,116.5 L416.0,119.1 L419.2,116.5 L421.1,117.8 L421.7,121.6 L424.2,126.0 L428.7,128.6 L435.0,129.2 L440.1,126.7 L443.2,125.4 L441.3,121.6 L442.6,117.2 L443.2,113.4 M392.6,150.7 L391.3,158.3 L392.0,164.6 L392.6,169.7 M395.1,150.7 L398.3,158.3 L401.4,164.6 L402.1,167.8 M388.2,171.0 L399.5,168.4 M388.8,177.3 L398.3,174.8 M391.3,160.4 L390.7,164.8 L392.0,169.2 M371.1,182.8 L376.8,180.6 L379.3,182.5 L380.6,185.1 L386.9,186.9 M380.6,186.3 L379.9,190.7 L381.8,193.9 L385.0,195.8 L383.1,199.0 L381.8,201.5 M268.3,160.4 L267.3,164.8 L268.3,168.6 L267.9,172.4 L272.7,174.9 L277.8,178.1 L279.3,180.0 L279.0,182.5 L278.4,186.3 L280.3,188.8 L283.4,190.7 L286.0,193.3 L286.6,196.4 L284.1,199.0 L280.3,199.9 L280.0,202.1 L281.5,203.4 L280.3,206.6 L277.8,207.2 L277.8,211.6 L279.6,214.8 L282.8,218.0 L284.7,221.1 L287.9,220.8 L286.6,224.9 L289.1,227.5 L292.9,230.6 L294.8,232.8 M304.3,220.5 L305.6,221.8 L303.7,224.3 L301.8,226.8 L301.2,232.8 M336.0,179.4 L334.1,181.9 L332.8,183.2 M346.7,188.8 L351.2,186.3 M377.1,180.3 L379.6,182.5 L380.9,184.4 L384.1,185.7 L380.9,187.6 L380.0,191.4 L382.8,193.9 L384.7,195.8 L382.8,198.3 L380.3,199.0 M349.3,205.3 L356.2,204.7 L356.9,209.7 L361.3,207.2 L365.1,205.3 L369.5,207.8 L372.7,211.0 L374.0,213.5 M356.9,210.4 L361.3,207.8 L362.6,210.4 L360.0,214.8 L356.2,216.1 L354.3,221.1 L352.4,224.3 L348.6,226.8 L344.8,228.7 L342.3,228.1 L338.5,223.0 L337.9,218.6 M342.3,228.1 L339.1,230.0 L336.6,232.8 M233.7,95.5 L241.0,96.3 L243.4,105.1 L246.6,113.1 L249.0,120.3 L246.6,124.3 L244.2,124.3 L245.0,117.9 L241.0,110.7 L238.6,106.7 L236.9,100.3Z"/>
<path fill="#464646" d="M83.4,30.6 L86.3,23.1 L89.8,17.2 L93.3,14.3 L92.7,17.8 L90.9,23.1 L92.3,24.6 L92.3,30.0 L89.8,30.6 L88.0,28.3 L85.7,31.8Z M89.8,36.5 L91.5,40.0 L89.8,44.6 L88.8,40.5Z M223.2,59.8 L224.8,63.1 L223.2,65.1 L222.3,69.6 L218.3,71.1 L219.9,68.0 L220.3,64.7 L221.9,61.9Z M324.8,72.0 L326.5,66.2 L329.4,65.0 L331.2,69.1 L330.6,72.6 L328.3,71.4Z M471.9,88.0 L474.3,88.7 L475.0,91.5 L472.9,92.2 L471.5,90.1Z M103.2,112.8 L107.2,112.8 L107.5,119.2 L104.9,123.9 L100.2,126.8 L98.5,124.5 L100.8,121.0 L102.6,116.3Z M77.2,200.9 L79.0,200.2 L79.8,202.6 L79.1,205.4 L77.9,204.7 L78.3,202.6Z M142.4,186.9 L144.1,186.5 L145.9,189.1 L147.6,191.3 L148.1,193.5 L145.4,195.2 L143.7,193.9 L142.8,190.8 L141.9,188.2Z M93.3,196.2 L95.4,194.4 L96.8,196.7 L95.0,198.1Z M122.2,229.1 L124.5,227.6 L126.0,228.4 L125.7,231.8 L122.2,231.8Z M253.5,129.7 L257.0,128.9 L257.0,137.3 L254.1,136.7Z M85.3,244.1 L86.7,243.9 L86.7,245.2 L85.3,245.2Z M92.5,244.4 L94.0,244.7 L93.7,246.1 L92.5,245.9Z M91.2,248.9 L93.2,249.4 L92.8,251.0 L91.4,250.6Z M354.3,267.3 L360.0,266.1 L356.2,271.1Z M286.9,294.7 L289.1,293.3 L294.2,292.9 L300.5,291.9 L306.2,290.0 L310.0,290.4 L308.8,293.6 L304.3,295.2 L300.9,295.9 L299.3,297.4 L298.0,299.9 L300.4,301.4 L299.8,303.1 L297.4,304.3 L296.0,302.9 L292.9,301.8 L294.7,298.5 L291.7,296.0 L287.9,296.0Z M361.6,310.6 L363.3,311.3 L363.7,313.0 L363.0,314.4 L361.4,314.9 L359.9,313.9 L359.6,312.5 L360.2,311.1Z M383.1,324.4 L385.5,324.0 L389.5,324.4 L386.9,325.9 L387.1,327.8 L389.0,330.1 L389.3,332.5 L387.9,333.7 L385.5,331.6 L382.4,329.2 L382.2,327.8 L383.8,326.6Z M254.0,130.5 L257.6,129.3 L260.1,130.5 L261.6,133.6 L259.6,135.6 L257.6,137.1 L254.0,136.7Z M288.1,139.9 L289.4,139.2 L291.9,139.6 L292.1,141.6 L290.5,143.5 L288.6,143.5 L287.9,142.0Z M278.9,152.7 L282.0,152.0 L283.3,154.4 L282.9,156.7 L280.7,155.8Z M301.7,162.8 L303.8,162.4 L303.1,165.2 L302.1,168.0 L300.3,169.7 L299.6,168.0 L300.7,165.2Z M324.0,173.4 L325.8,174.1 L326.0,176.2 L324.5,177.4 L322.8,176.7 L322.5,174.6Z M408.1,149.4 L411.2,148.5 L414.1,147.1 L416.9,144.2 L415.0,148.5 L412.7,151.3 L410.3,153.2 L408.4,153.2Z M426.1,120.3 L428.7,123.5 L433.7,124.1 L437.5,122.9 L438.8,119.7 L435.0,121.6 L429.9,122.2Z M402.7,173.7 L405.1,172.3 L408.4,172.5 L410.1,174.9 L410.3,178.5 L407.0,178.5 L405.6,179.4 L403.7,176.6Z M298.7,163.7 L302.2,163.7 L301.9,167.2 L300.3,170.4 L298.7,170.4 L298.4,167.2Z M309.6,164.7 L311.1,162.0 L313.4,162.0 L313.4,163.9 L312.6,167.3 L310.3,166.9Z M330.3,184.4 L333.2,183.6 L333.6,186.5 L332.3,189.4 L329.5,189.8 L329.9,187.3Z M350.1,177.5 L354.2,177.5 L355.4,179.2 L353.4,180.4 L350.9,179.6Z M386.6,186.3 L394.5,182.2 L394.5,189.5 L389.8,191.4 L386.6,190.7Z M223.9,100.5 L228.4,101.3 L231.3,107.2 L230.6,111.6 L233.5,114.6 L235.0,120.5 L238.7,124.1 L234.3,124.9 L233.5,119.0 L229.8,115.3 L227.6,108.6 L226.1,104.2Z M81.5,234.0 L84.1,233.3 L87.3,235.4 L88.3,237.8 L85.9,238.5 L83.6,237.8 L81.7,236.8Z M376.9,200.2 L374.2,205.5 L370.5,212.0 L372.6,216.2 L375.9,219.4 L374.8,222.7 L377.5,225.9 L379.6,230.1 L378.0,234.4 L376.6,238.7 L378.3,240.8 L376.2,245.1 L375.1,248.3 L372.6,252.0 L375.9,252.0 L379.6,248.8 L383.0,245.3 L387.1,240.8 L389.2,235.5 L388.1,231.2 L384.9,226.9 L384.4,221.6 L384.9,214.1 L387.1,208.8 L384.9,202.3 L381.7,199.1Z"/>
<path fill="#ffffff" stroke="none" d="M380.9,207.9 L382.6,208.3 L382.8,210.0 L381.3,210.3Z M382.4,212.2 L383.7,212.6 L383.4,214.1 L382.2,213.9Z M379.6,216.2 L380.7,216.7 L380.4,217.9 L379.4,217.7Z M380.4,231.4 L382.2,232.1 L381.7,233.8 L380.2,233.3Z M383.3,236.5 L384.7,237.0 L384.3,238.5 L383.0,238.0Z"/>
<path stroke-width="2.9" d="M257.0,298.2 L254.1,302.2 L250.6,305.7 L243.6,308.1 L240.1,311.6 L236.6,316.2 L236.0,320.9 L237.8,326.7 L239.5,330.2"/>
<path stroke-width="2.6" d="M376.5,244.6 L374.0,250.9 L369.5,253.4 L367.0,257.8 L365.1,261.0 L361.3,264.2 L358.1,268.0 L355.0,270.5 L354.3,274.3 L353.7,279.4 L353.4,283.8 L354.3,288.9 L356.2,292.7 L360.0,297.7 L363.2,302.2 M306.9,294.7 L313.3,293.6 L320.8,293.1 L325.8,293.1 M284.1,143.7 L279.0,148.2 L275.2,151.3 L271.4,154.5 M283.4,157.7 L286.6,153.2 L289.1,150.7 L292.9,148.2 L295.5,146.6 L298.0,147.2 L294.8,150.1 L292.9,152.0 L294.2,153.6 L297.4,152.0 L300.5,155.1 L304.3,155.5 L308.1,153.6 L312.6,151.7 L317.0,152.0 M304.3,166.5 L309.4,162.1 L313.2,160.8 L314.5,162.1 L313.2,167.8 L309.4,169.7 L307.5,174.8 L306.9,178.6 L308.8,182.4 L310.7,185.5 M368.3,164.6 L370.2,167.8 L368.9,171.0 L365.1,172.2 L358.1,172.9 L352.4,174.8 L348.6,176.3 M368.3,164.3 L370.8,159.6 L374.0,155.1 L380.3,152.6 L386.6,151.3 L394.5,149.1 M393.9,150.1 L397.0,144.4 L397.6,139.3 L397.0,133.0 L398.3,126.7 L400.8,128.6 L404.0,125.1 L407.8,126.7 L409.0,131.1 L410.3,135.5 L412.8,139.9 L415.4,141.8 M415.4,141.8 L418.5,142.5 L422.3,139.9 L425.5,137.4 L426.8,133.0 L430.6,133.0 M418.5,142.5 L422.3,140.6 L426.8,135.5 M443.2,113.4 L446.4,117.8 L449.5,120.3 L450.8,125.4 L447.6,128.6 L446.4,126.7 L447.0,123.5 L445.8,120.3 L444.5,117.2 M371.1,158.6 L373.6,155.1 L383.1,152.0 L392.0,150.1 M382.5,152.6 L384.4,161.5 L387.5,169.7 L388.8,177.3 L389.4,185.5 M402.1,167.8 L402.7,162.1 L402.1,158.3 M401.4,164.8 L402.1,168.6 L401.4,173.0 M387.2,169.2 L387.2,177.5 L388.2,183.8 L387.5,188.2 M386.9,192.6 L390.1,193.9 L389.4,199.0 L387.5,204.0 L386.3,206.6 M303.7,196.1 L306.9,194.5 L308.8,193.3 L310.3,190.1 L311.0,186.3 L310.0,182.5 L307.5,179.4 L306.5,176.2 L307.5,171.8 L308.1,167.3 M351.2,207.8 L347.4,209.1 L343.6,211.6 L340.4,215.4 L337.9,218.6 L336.0,217.3 L333.4,217.3 L329.6,218.0 L326.5,216.7 L323.3,216.1 L322.1,218.0 L319.5,219.9 L317.0,224.3 L313.8,224.9 L310.7,227.5 L308.1,228.7 L304.3,228.1 L303.1,226.8 M386.6,202.1 L389.1,196.4 L389.8,191.4"/>
<path stroke-width="3.2" d="M253.1,305.5 L255.6,302.3 L258.8,299.8 L263.2,297.9 L267.6,296.6 L272.7,298.5 L277.8,298.8 L281.5,300.4 L284.1,302.9 L286.6,303.6 L289.8,302.0 L292.9,300.4 M308.1,290.2 L313.3,289.0 L319.5,289.2 L324.6,290.6 M324.6,290.6 L326.5,294.1 L328.4,295.4 L330.9,294.7 L332.8,291.6 L335.3,290.6 L338.5,291.2 L341.0,294.4 L344.2,297.3 L346.7,299.2 L347.4,302.3 L346.1,304.8 L346.4,308.0 L348.6,309.9 L350.5,314.3 L353.1,315.6 L354.3,318.8 L357.5,322.6 L360.7,325.1 L361.9,327.6 L363.8,328.3 L361.3,330.2 L356.2,334.0 M374.5,312.4 L377.4,313.7 L381.2,311.5 L384.4,308.6 L386.9,309.3 L390.1,311.5 L390.4,314.3 L388.8,316.6 L386.9,314.3 L385.3,311.5"/>
<path stroke-width="2.8" d="M356.2,334.0 L361.3,332.1 L365.7,328.3 L367.6,325.1 L368.9,320.0 L368.9,314.3 L367.0,308.6 L363.8,302.3 L361.3,297.3 L358.1,292.8 L355.6,289.0 L354.0,285.2 L353.4,280.8 L353.7,276.4 M334.7,187.6 L338.5,182.8 L344.8,181.3 L350.5,178.4 L355.0,178.1 L356.2,179.4 L354.3,182.5 L346.1,188.2 L338.5,193.3 L331.5,195.2 L329.0,193.9 L327.8,192.3Z"/>
<path stroke-width="3" d="M392.6,318.5 L397.0,319.1 L398.3,321.9 L397.0,324.2 M399.5,324.5 L402.7,323.5 L404.6,325.1 L404.0,327.6 M260.0,135.5 L264.5,135.8 L267.6,138.4 L271.4,141.2 L275.2,143.4 L280.3,142.2 L284.1,142.8 L286.6,142.2 M289.1,138.1 L292.9,134.3 L298.0,134.6 L303.7,134.9 L306.2,139.3 L307.2,143.7 L309.4,141.8 L311.9,140.9 L313.8,143.1 L315.7,147.5 L317.0,151.3 M335.3,155.5 L339.1,155.1 L343.6,159.6 L347.1,164.0 L345.2,166.8 L341.4,164.6 L336.0,161.2 L335.3,157.7Z M348.0,174.8 L350.5,171.0 L355.0,168.4 L361.3,167.2 L365.1,167.8 L368.3,164.6 M402.1,158.3 L404.6,155.8 L407.1,154.5 M298.0,160.4 L297.4,166.1 L296.7,172.4 L299.9,173.7 L300.5,176.8 L299.3,181.9 L299.0,186.3 L299.9,190.7 L301.8,194.5 L303.7,196.1"/>
<path stroke-width="2.5" d="M405.6,330.8 L408.7,334.0 L410.6,336.2 M413.5,334.9 L418.5,336.5 L415.7,340.9 M423.0,336.2 L427.4,336.5 M428.7,341.2 L431.2,338.1 L437.2,338.7"/>
<path stroke-width="4.6" d="M316.4,152.6 L323.3,154.8 L335.3,155.8"/>
<path stroke-width="3.6" d="M317.0,155.1 L312.6,157.7 L303.7,158.9 L301.8,159.6 L299.9,164.6 L298.0,169.7 L297.4,172.9 L299.3,173.5 L299.9,177.9 L299.3,181.1 L299.0,185.5 M390.7,135.2 L393.5,126.7 L395.8,119.7 L398.9,113.4"/>
<path stroke-width="4.2" d="M386.9,191.7 L390.7,187.6 L395.8,182.2 L399.5,178.1 L402.1,175.2"/>
</g>
</defs>
<rect x="0" y="0" width="2214" height="1122" fill="#ffffff"/>
<g transform="translate(0,51) scale(1,1.05)"><text x="844.2" y="0" font-size="62.6">ASO</text><text x="1058.6" y="0" font-size="62.5">Days 1 to 7</text></g>
<g transform="translate(7.5,134.0)">
<g clip-path="url(#pc)">
<path fill="#FFFFC8" stroke="#ffffff" stroke-opacity=".12" stroke-width=".5" d="M44.1,179.5 L58.1,185.6 L51.4,205.5 L36.9,199.2Z M58.1,185.6 L72.5,191.3 L66.3,211.4 L51.4,205.5Z M72.5,191.3 L87.2,196.5 L81.5,216.8 L66.3,211.4Z M87.2,196.5 L102.3,201.3 L97.1,221.8 L81.5,216.8Z M22.9,192.4 L36.9,199.2 L30.2,218.8 L15.7,211.9Z M36.9,199.2 L51.4,205.5 L45.1,225.3 L30.2,218.8Z M51.4,205.5 L66.3,211.4 L60.4,231.4 L45.1,225.3Z M66.3,211.4 L81.5,216.8 L76.1,237.0 L60.4,231.4Z M81.5,216.8 L97.1,221.8 L92.1,242.1 L76.1,237.0Z M97.1,221.8 L112.9,226.2 L108.5,246.7 L92.1,242.1Z M1.6,204.5 L15.7,211.9 L8.9,231.3 L-5.5,223.7Z M15.7,211.9 L30.2,218.8 L23.8,238.4 L8.9,231.3Z M30.2,218.8 L45.1,225.3 L39.2,245.1 L23.8,238.4Z M45.1,225.3 L60.4,231.4 L54.9,251.3 L39.2,245.1Z M60.4,231.4 L76.1,237.0 L71.1,257.1 L54.9,251.3Z M76.1,237.0 L92.1,242.1 L87.5,262.4 L71.1,257.1Z M92.1,242.1 L108.5,246.7 L104.3,267.1 L87.5,262.4Z M-5.5,223.7 L8.9,231.3 L2.6,250.6 L-12.2,242.8Z M8.9,231.3 L23.8,238.4 L17.9,257.9 L2.6,250.6Z M23.8,238.4 L39.2,245.1 L33.6,264.8 L17.9,257.9Z M39.2,245.1 L54.9,251.3 L49.8,271.2 L33.6,264.8Z M54.9,251.3 L71.1,257.1 L66.3,277.1 L49.8,271.2Z M71.1,257.1 L87.5,262.4 L83.3,282.5 L66.3,277.1Z M87.5,262.4 L104.3,267.1 L100.5,287.3 L83.3,282.5Z M-12.2,242.8 L2.6,250.6 L-3.2,269.8 L-18.3,261.8Z M2.6,250.6 L17.9,257.9 L12.4,277.3 L-3.2,269.8Z M17.9,257.9 L33.6,264.8 L28.5,284.3 L12.4,277.3Z M33.6,264.8 L49.8,271.2 L45.1,290.8 L28.5,284.3Z M49.8,271.2 L66.3,277.1 L62.0,296.9 L45.1,290.8Z M66.3,277.1 L83.3,282.5 L79.3,302.4 L62.0,296.9Z M83.3,282.5 L100.5,287.3 L96.9,307.4 L79.3,302.4Z M12.4,277.3 L28.5,284.3 L23.9,303.6 L7.4,296.4Z M28.5,284.3 L45.1,290.8 L40.7,310.3 L23.9,303.6Z M45.1,290.8 L62.0,296.9 L58.0,316.4 L40.7,310.3Z M62.0,296.9 L79.3,302.4 L75.7,322.1 L58.0,316.4Z M79.3,302.4 L96.9,307.4 L93.7,327.2 L75.7,322.1Z"/>
<path fill="#FFE132" stroke="#ffffff" stroke-opacity=".12" stroke-width=".5" d="M51.4,205.5 L66.3,211.4 L60.4,231.4 L45.1,225.3Z M66.3,211.4 L81.5,216.8 L76.1,237.0 L60.4,231.4Z M81.5,216.8 L97.1,221.8 L92.1,242.1 L76.1,237.0Z M45.1,225.3 L60.4,231.4 L54.9,251.3 L39.2,245.1Z M60.4,231.4 L76.1,237.0 L71.1,257.1 L54.9,251.3Z M76.1,237.0 L92.1,242.1 L87.5,262.4 L71.1,257.1Z M39.2,245.1 L54.9,251.3 L49.8,271.2 L33.6,264.8Z M54.9,251.3 L71.1,257.1 L66.3,277.1 L49.8,271.2Z M71.1,257.1 L87.5,262.4 L83.3,282.5 L66.3,277.1Z M33.6,264.8 L49.8,271.2 L45.1,290.8 L28.5,284.3Z M49.8,271.2 L66.3,277.1 L62.0,296.9 L45.1,290.8Z"/>
<path fill="#D2F5FF" stroke="#ffffff" stroke-opacity=".12" stroke-width=".5" d="M-49.1,309.0 L-33.6,317.8 L-37.6,336.0 L-53.3,327.0Z M-33.6,317.8 L-17.6,326.2 L-21.4,344.5 L-37.6,336.0Z M-17.6,326.2 L-1.1,334.1 L-4.7,352.6 L-21.4,344.5Z M-1.1,334.1 L15.9,341.5 L12.6,360.1 L-4.7,352.6Z M15.9,341.5 L33.3,348.4 L30.2,367.1 L12.6,360.1Z M-53.3,327.0 L-37.6,336.0 L-41.1,354.0 L-56.9,344.9Z M-37.6,336.0 L-21.4,344.5 L-24.7,362.6 L-41.1,354.0Z M-21.4,344.5 L-4.7,352.6 L-7.7,370.7 L-24.7,362.6Z M-4.7,352.6 L12.6,360.1 L9.7,378.3 L-7.7,370.7Z M12.6,360.1 L30.2,367.1 L27.6,385.4 L9.7,378.3Z M149.4,339.2 L168.4,342.1 L166.8,361.9 L147.4,358.9Z M168.4,342.1 L187.6,344.4 L186.3,364.2 L166.8,361.9Z M187.6,344.4 L206.9,346.1 L206.0,366.0 L186.3,364.2Z M147.4,358.9 L166.8,361.9 L165.4,381.3 L145.7,378.4Z M166.8,361.9 L186.3,364.2 L185.2,383.7 L165.4,381.3Z M186.3,364.2 L206.0,366.0 L205.2,385.5 L185.2,383.7Z"/>

<use href="#basemap"/>
</g>
<rect x="0" y="0" width="511.5" height="346.0" fill="none" stroke="#000" stroke-width="4" stroke-linejoin="round"/>
<g transform="translate(0,-5.0) scale(1,1.04)"><text x="-3.6" y="0" font-size="35.5">Phase 1</text><text x="513.9" y="0" font-size="35.6" text-anchor="end">69 events</text></g>
</g>
<g transform="translate(570.1,134.0)">
<g clip-path="url(#pc)">
<path fill="#FFFFC8" stroke="#ffffff" stroke-opacity=".12" stroke-width=".5" d="M161.1,150.4 L175.3,153.0 L171.7,173.9 L156.9,171.2Z M175.3,153.0 L189.7,155.1 L186.7,176.2 L171.7,173.9Z M189.7,155.1 L204.2,156.9 L201.9,178.0 L186.7,176.2Z M204.2,156.9 L218.8,158.2 L217.1,179.4 L201.9,178.0Z M218.8,158.2 L233.4,159.1 L232.4,180.3 L217.1,179.4Z M142.2,168.0 L156.9,171.2 L152.9,192.1 L137.6,188.8Z M156.9,171.2 L171.7,173.9 L168.3,194.9 L152.9,192.1Z M171.7,173.9 L186.7,176.2 L183.9,197.3 L168.3,194.9Z M186.7,176.2 L201.9,178.0 L199.7,199.2 L183.9,197.3Z M122.6,185.1 L137.6,188.8 L133.2,209.6 L117.6,205.7Z M137.6,188.8 L152.9,192.1 L149.0,213.0 L133.2,209.6Z M152.9,192.1 L168.3,194.9 L165.1,215.9 L149.0,213.0Z M168.3,194.9 L183.9,197.3 L181.3,218.4 L165.1,215.9Z M87.2,196.5 L102.3,201.3 L97.1,221.8 L81.5,216.8Z M102.3,201.3 L117.6,205.7 L112.9,226.2 L97.1,221.8Z M117.6,205.7 L133.2,209.6 L129.0,230.3 L112.9,226.2Z M133.2,209.6 L149.0,213.0 L145.4,233.8 L129.0,230.3Z M149.0,213.0 L165.1,215.9 L162.0,236.8 L145.4,233.8Z M81.5,216.8 L97.1,221.8 L92.1,242.1 L76.1,237.0Z M97.1,221.8 L112.9,226.2 L108.5,246.7 L92.1,242.1Z M112.9,226.2 L129.0,230.3 L125.1,250.9 L108.5,246.7Z M129.0,230.3 L145.4,233.8 L142.0,254.5 L125.1,250.9Z M60.4,231.4 L76.1,237.0 L71.1,257.1 L54.9,251.3Z M76.1,237.0 L92.1,242.1 L87.5,262.4 L71.1,257.1Z M92.1,242.1 L108.5,246.7 L104.3,267.1 L87.5,262.4Z M108.5,246.7 L125.1,250.9 L121.4,271.4 L104.3,267.1Z M71.1,257.1 L87.5,262.4 L83.3,282.5 L66.3,277.1Z M410.5,287.3 L427.7,282.4 L431.7,302.3 L414.0,307.4Z M427.7,282.4 L444.6,277.0 L449.0,296.8 L431.7,302.3Z M444.6,277.0 L461.2,271.1 L465.9,290.8 L449.0,296.8Z M461.2,271.1 L477.3,264.7 L482.4,284.3 L465.9,290.8Z M477.3,264.7 L493.1,257.9 L498.5,277.2 L482.4,284.3Z M377.9,315.8 L396.1,311.8 L399.0,331.7 L380.4,335.7Z M396.1,311.8 L414.0,307.4 L417.3,327.1 L399.0,331.7Z M414.0,307.4 L431.7,302.3 L435.3,322.0 L417.3,327.1Z M431.7,302.3 L449.0,296.8 L453.0,316.4 L435.3,322.0Z M449.0,296.8 L465.9,290.8 L470.2,310.2 L453.0,316.4Z M465.9,290.8 L482.4,284.3 L487.1,303.6 L470.2,310.2Z M482.4,284.3 L498.5,277.2 L503.5,296.4 L487.1,303.6Z M498.5,277.2 L514.2,269.7 L519.5,288.8 L503.5,296.4Z M514.2,269.7 L529.3,261.8 L534.9,280.6 L519.5,288.8Z M529.3,261.8 L543.9,253.4 L549.9,272.1 L534.9,280.6Z M435.3,322.0 L453.0,316.4 L456.6,335.7 L438.6,341.5Z M453.0,316.4 L470.2,310.2 L474.1,329.5 L456.6,335.7Z M470.2,310.2 L487.1,303.6 L491.3,322.7 L474.1,329.5Z M487.1,303.6 L503.5,296.4 L508.0,315.4 L491.3,322.7Z M503.5,296.4 L519.5,288.8 L524.3,307.6 L508.0,315.4Z M519.5,288.8 L534.9,280.6 L540.0,299.3 L524.3,307.6Z M534.9,280.6 L549.9,272.1 L555.2,290.6 L540.0,299.3Z"/>
<path fill="#D2F5FF" stroke="#ffffff" stroke-opacity=".12" stroke-width=".5" d="M-49.1,309.0 L-33.6,317.8 L-37.6,336.0 L-53.3,327.0Z M-33.6,317.8 L-17.6,326.2 L-21.4,344.5 L-37.6,336.0Z M-17.6,326.2 L-1.1,334.1 L-4.7,352.6 L-21.4,344.5Z M-1.1,334.1 L15.9,341.5 L12.6,360.1 L-4.7,352.6Z M15.9,341.5 L33.3,348.4 L30.2,367.1 L12.6,360.1Z M-53.3,327.0 L-37.6,336.0 L-41.1,354.0 L-56.9,344.9Z M-37.6,336.0 L-21.4,344.5 L-24.7,362.6 L-41.1,354.0Z M-21.4,344.5 L-4.7,352.6 L-7.7,370.7 L-24.7,362.6Z M-4.7,352.6 L12.6,360.1 L9.7,378.3 L-7.7,370.7Z M12.6,360.1 L30.2,367.1 L27.6,385.4 L9.7,378.3Z M72.4,341.5 L90.7,346.7 L88.1,365.9 L69.5,360.6Z M90.7,346.7 L109.4,351.3 L107.0,370.6 L88.1,365.9Z M112.0,331.7 L130.6,335.7 L128.3,355.4 L109.4,351.3Z M130.6,335.7 L149.4,339.2 L147.4,358.9 L128.3,355.4Z M149.4,339.2 L168.4,342.1 L166.8,361.9 L147.4,358.9Z M168.4,342.1 L187.6,344.4 L186.3,364.2 L166.8,361.9Z M187.6,344.4 L206.9,346.1 L206.0,366.0 L186.3,364.2Z M109.4,351.3 L128.3,355.4 L126.2,374.8 L107.0,370.6Z M128.3,355.4 L147.4,358.9 L145.7,378.4 L126.2,374.8Z M147.4,358.9 L166.8,361.9 L165.4,381.3 L145.7,378.4Z M166.8,361.9 L186.3,364.2 L185.2,383.7 L165.4,381.3Z M186.3,364.2 L206.0,366.0 L205.2,385.5 L185.2,383.7Z"/>

<use href="#basemap"/>
</g>
<rect x="0" y="0" width="511.5" height="346.0" fill="none" stroke="#000" stroke-width="4" stroke-linejoin="round"/>
<g transform="translate(0,-5.0) scale(1,1.04)"><text x="-3.6" y="0" font-size="35.5">Phase 2</text><text x="513.9" y="0" font-size="35.6" text-anchor="end">67 events</text></g>
</g>
<g transform="translate(1132.7,134.0)">
<g clip-path="url(#pc)">
<path fill="#D2F5FF" stroke="#ffffff" stroke-opacity=".12" stroke-width=".5" d="M176.4,260.3 L193.8,262.4 L192.1,283.2 L174.1,281.0Z M174.1,281.0 L192.1,283.2 L190.4,303.8 L172.1,301.6Z M192.1,283.2 L210.1,284.8 L208.9,305.5 L190.4,303.8Z M172.1,301.6 L190.4,303.8 L188.9,324.2 L170.1,322.0Z M190.4,303.8 L208.9,305.5 L207.9,325.9 L188.9,324.2Z M208.9,305.5 L227.5,306.6 L226.9,327.1 L207.9,325.9Z M170.1,322.0 L188.9,324.2 L187.6,344.4 L168.4,342.1Z M188.9,324.2 L207.9,325.9 L206.9,346.1 L187.6,344.4Z M207.9,325.9 L226.9,327.1 L226.3,347.3 L206.9,346.1Z M168.4,342.1 L187.6,344.4 L186.3,364.2 L166.8,361.9Z M187.6,344.4 L206.9,346.1 L206.0,366.0 L186.3,364.2Z M206.9,346.1 L226.3,347.3 L225.8,367.2 L206.0,366.0Z M166.8,361.9 L186.3,364.2 L185.2,383.7 L165.4,381.3Z M186.3,364.2 L206.0,366.0 L205.2,385.5 L185.2,383.7Z M206.0,366.0 L225.8,367.2 L225.3,386.7 L205.2,385.5Z"/>

<use href="#basemap"/>
</g>
<rect x="0" y="0" width="511.5" height="346.0" fill="none" stroke="#000" stroke-width="4" stroke-linejoin="round"/>
<g transform="translate(0,-5.0) scale(1,1.04)"><text x="-3.6" y="0" font-size="35.5">Phase 3</text><text x="513.9" y="0" font-size="35.6" text-anchor="end">47 events</text></g>
</g>
<g transform="translate(1695.3,134.0)">
<g clip-path="url(#pc)">
<path fill="#FFFFC8" stroke="#ffffff" stroke-opacity=".12" stroke-width=".5" d="M350.0,-22.0 L357.4,-25.0 L367.4,-7.1 L359.2,-3.9Z M357.4,-25.0 L364.6,-28.1 L375.3,-10.6 L367.4,-7.1Z M364.6,-28.1 L371.6,-31.5 L383.0,-14.3 L375.3,-10.6Z M371.6,-31.5 L378.4,-35.1 L390.5,-18.2 L383.0,-14.3Z M359.2,-3.9 L367.4,-7.1 L377.2,11.1 L368.3,14.6Z M367.4,-7.1 L375.3,-10.6 L385.8,7.3 L377.2,11.1Z M375.3,-10.6 L383.0,-14.3 L394.2,3.3 L385.8,7.3Z M383.0,-14.3 L390.5,-18.2 L402.3,-1.0 L394.2,3.3Z M390.5,-18.2 L397.7,-22.4 L410.2,-5.5 L402.3,-1.0Z M368.3,14.6 L377.2,11.1 L386.7,29.6 L377.2,33.4Z M377.2,11.1 L385.8,7.3 L396.0,25.6 L386.7,29.6Z M385.8,7.3 L394.2,3.3 L405.1,21.2 L396.0,25.6Z M394.2,3.3 L402.3,-1.0 L413.8,16.6 L405.1,21.2Z M402.3,-1.0 L410.2,-5.5 L422.3,11.8 L413.8,16.6Z M410.2,-5.5 L417.7,-10.2 L430.4,6.7 L422.3,11.8Z M417.7,-10.2 L424.9,-15.2 L438.3,1.3 L430.4,6.7Z M424.9,-15.2 L431.9,-20.3 L445.7,-4.3 L438.3,1.3Z M431.9,-20.3 L438.4,-25.7 L452.8,-10.1 L445.7,-4.3Z M396.0,25.6 L405.1,21.2 L415.7,39.5 L406.0,44.1Z M405.1,21.2 L413.8,16.6 L425.1,34.5 L415.7,39.5Z M413.8,16.6 L422.3,11.8 L434.1,29.3 L425.1,34.5Z M422.3,11.8 L430.4,6.7 L442.9,23.9 L434.1,29.3Z M-49.1,309.0 L-33.6,317.8 L-37.6,336.0 L-53.3,327.0Z M-33.6,317.8 L-17.6,326.2 L-21.4,344.5 L-37.6,336.0Z M-17.6,326.2 L-1.1,334.1 L-4.7,352.6 L-21.4,344.5Z M-1.1,334.1 L15.9,341.5 L12.6,360.1 L-4.7,352.6Z M15.9,341.5 L33.3,348.4 L30.2,367.1 L12.6,360.1Z M33.3,348.4 L51.2,354.8 L48.4,373.5 L30.2,367.1Z M51.2,354.8 L69.5,360.6 L66.9,379.4 L48.4,373.5Z M-53.3,327.0 L-37.6,336.0 L-41.1,354.0 L-56.9,344.9Z M-37.6,336.0 L-21.4,344.5 L-24.7,362.6 L-41.1,354.0Z M-21.4,344.5 L-4.7,352.6 L-7.7,370.7 L-24.7,362.6Z M-4.7,352.6 L12.6,360.1 L9.7,378.3 L-7.7,370.7Z M12.6,360.1 L30.2,367.1 L27.6,385.4 L9.7,378.3Z M30.2,367.1 L48.4,373.5 L45.9,391.9 L27.6,385.4Z M48.4,373.5 L66.9,379.4 L64.7,397.9 L45.9,391.9Z M19.6,322.7 L36.8,329.5 L33.3,348.4 L15.9,341.5Z M36.8,329.5 L54.4,335.8 L51.2,354.8 L33.3,348.4Z M54.4,335.8 L72.4,341.5 L69.5,360.6 L51.2,354.8Z"/>

<use href="#basemap"/>
</g>
<rect x="0" y="0" width="511.5" height="346.0" fill="none" stroke="#000" stroke-width="4" stroke-linejoin="round"/>
<g transform="translate(0,-5.0) scale(1,1.04)"><text x="-3.6" y="0" font-size="35.5">Phase 4</text><text x="513.9" y="0" font-size="35.6" text-anchor="end">47 events</text></g>
</g>
<g transform="translate(7.5,587.2)">
<g clip-path="url(#pc)">
<path fill="#D2F5FF" stroke="#ffffff" stroke-opacity=".12" stroke-width=".5" d="M-9.4,124.7 L1.9,132.4 L-7.6,151.1 L-19.3,143.1Z M1.9,132.4 L13.7,139.8 L4.7,158.8 L-7.6,151.1Z M13.7,139.8 L25.9,146.9 L17.4,166.1 L4.7,158.8Z M25.9,146.9 L38.6,153.5 L30.5,173.0 L17.4,166.1Z M38.6,153.5 L51.7,159.8 L44.1,179.5 L30.5,173.0Z M51.7,159.8 L65.2,165.7 L58.1,185.6 L44.1,179.5Z M65.2,165.7 L79.1,171.2 L72.5,191.3 L58.1,185.6Z M17.4,166.1 L30.5,173.0 L22.9,192.4 L9.3,185.3Z M30.5,173.0 L44.1,179.5 L36.9,199.2 L22.9,192.4Z M44.1,179.5 L58.1,185.6 L51.4,205.5 L36.9,199.2Z M58.1,185.6 L72.5,191.3 L66.3,211.4 L51.4,205.5Z M72.5,191.3 L87.2,196.5 L81.5,216.8 L66.3,211.4Z M87.2,196.5 L102.3,201.3 L97.1,221.8 L81.5,216.8Z M22.9,192.4 L36.9,199.2 L30.2,218.8 L15.7,211.9Z M36.9,199.2 L51.4,205.5 L45.1,225.3 L30.2,218.8Z M51.4,205.5 L66.3,211.4 L60.4,231.4 L45.1,225.3Z M66.3,211.4 L81.5,216.8 L76.1,237.0 L60.4,231.4Z M81.5,216.8 L97.1,221.8 L92.1,242.1 L76.1,237.0Z M97.1,221.8 L112.9,226.2 L108.5,246.7 L92.1,242.1Z M30.2,218.8 L45.1,225.3 L39.2,245.1 L23.8,238.4Z M45.1,225.3 L60.4,231.4 L54.9,251.3 L39.2,245.1Z M60.4,231.4 L76.1,237.0 L71.1,257.1 L54.9,251.3Z M76.1,237.0 L92.1,242.1 L87.5,262.4 L71.1,257.1Z M39.2,245.1 L54.9,251.3 L49.8,271.2 L33.6,264.8Z M54.9,251.3 L71.1,257.1 L66.3,277.1 L49.8,271.2Z M71.1,257.1 L87.5,262.4 L83.3,282.5 L66.3,277.1Z M369.0,254.5 L385.8,250.9 L389.5,271.4 L372.2,275.1Z M385.8,250.9 L402.5,246.7 L406.6,267.1 L389.5,271.4Z M336.8,281.0 L354.6,278.3 L357.1,298.8 L338.9,301.6Z M354.6,278.3 L372.2,275.1 L375.2,295.5 L357.1,298.8Z M372.2,275.1 L389.5,271.4 L392.9,291.7 L375.2,295.5Z M389.5,271.4 L406.6,267.1 L410.5,287.3 L392.9,291.7Z M406.6,267.1 L423.4,262.3 L427.7,282.4 L410.5,287.3Z M302.0,305.5 L320.5,303.8 L322.0,324.2 L303.1,325.9Z M320.5,303.8 L338.9,301.6 L340.8,322.0 L322.0,324.2Z M338.9,301.6 L357.1,298.8 L359.5,319.1 L340.8,322.0Z M357.1,298.8 L375.2,295.5 L377.9,315.8 L359.5,319.1Z M375.2,295.5 L392.9,291.7 L396.1,311.8 L377.9,315.8Z M392.9,291.7 L410.5,287.3 L414.0,307.4 L396.1,311.8Z M410.5,287.3 L427.7,282.4 L431.7,302.3 L414.0,307.4Z M245.9,327.7 L265.0,327.7 L265.2,347.9 L245.8,347.9Z M265.0,327.7 L284.1,327.1 L284.7,347.3 L265.2,347.9Z M284.1,327.1 L303.1,325.9 L304.1,346.1 L284.7,347.3Z M303.1,325.9 L322.0,324.2 L323.4,344.4 L304.1,346.1Z M322.0,324.2 L340.8,322.0 L342.6,342.1 L323.4,344.4Z M340.8,322.0 L359.5,319.1 L361.6,339.2 L342.6,342.1Z M359.5,319.1 L377.9,315.8 L380.4,335.7 L361.6,339.2Z M377.9,315.8 L396.1,311.8 L399.0,331.7 L380.4,335.7Z M396.1,311.8 L414.0,307.4 L417.3,327.1 L399.0,331.7Z M414.0,307.4 L431.7,302.3 L435.3,322.0 L417.3,327.1Z M245.8,347.9 L265.2,347.9 L265.4,367.8 L245.6,367.8Z M265.2,347.9 L284.7,347.3 L285.2,367.2 L265.4,367.8Z M284.7,347.3 L304.1,346.1 L305.0,366.0 L285.2,367.2Z M304.1,346.1 L323.4,344.4 L324.6,364.2 L305.0,366.0Z M323.4,344.4 L342.6,342.1 L344.2,361.9 L324.6,364.2Z M342.6,342.1 L361.6,339.2 L363.5,358.9 L344.2,361.9Z M361.6,339.2 L380.4,335.7 L382.7,355.4 L363.5,358.9Z M245.6,367.8 L265.4,367.8 L265.6,387.3 L245.4,387.3Z M265.4,367.8 L285.2,367.2 L285.7,386.7 L265.6,387.3Z M285.2,367.2 L305.0,366.0 L305.8,385.5 L285.7,386.7Z M305.0,366.0 L324.6,364.2 L325.8,383.7 L305.8,385.5Z M324.6,364.2 L344.2,361.9 L345.6,381.3 L325.8,383.7Z M344.2,361.9 L363.5,358.9 L365.3,378.3 L345.6,381.3Z M363.5,358.9 L382.7,355.4 L384.7,374.8 L365.3,378.3Z"/>
<path fill="#A0D2FF" stroke="#ffffff" stroke-opacity=".12" stroke-width=".5" d="M58.1,185.6 L72.5,191.3 L66.3,211.4 L51.4,205.5Z M72.5,191.3 L87.2,196.5 L81.5,216.8 L66.3,211.4Z M51.4,205.5 L66.3,211.4 L60.4,231.4 L45.1,225.3Z M66.3,211.4 L81.5,216.8 L76.1,237.0 L60.4,231.4Z M81.5,216.8 L97.1,221.8 L92.1,242.1 L76.1,237.0Z M60.4,231.4 L76.1,237.0 L71.1,257.1 L54.9,251.3Z"/>
<path fill="#FFFFC8" stroke="#ffffff" stroke-opacity=".12" stroke-width=".5" d="M249.2,96.2 L261.8,96.2 L262.1,117.2 L248.8,117.2Z M261.8,96.2 L274.3,95.8 L275.4,116.8 L262.1,117.2Z M235.5,116.8 L248.8,117.2 L248.5,138.3 L234.4,137.9Z M248.8,117.2 L262.1,117.2 L262.5,138.3 L248.5,138.3Z M262.1,117.2 L275.4,116.8 L276.5,137.9 L262.5,138.3Z M275.4,116.8 L288.7,116.0 L290.5,137.0 L276.5,137.9Z M288.7,116.0 L301.9,114.8 L304.4,135.8 L290.5,137.0Z M234.4,137.9 L248.5,138.3 L248.1,159.5 L233.4,159.1Z M248.5,138.3 L262.5,138.3 L262.8,159.5 L248.1,159.5Z M262.5,138.3 L276.5,137.9 L277.5,159.1 L262.8,159.5Z M276.5,137.9 L290.5,137.0 L292.2,158.2 L277.5,159.1Z M290.5,137.0 L304.4,135.8 L306.8,156.9 L292.2,158.2Z M248.1,159.5 L262.8,159.5 L263.2,180.8 L247.8,180.8Z M262.8,159.5 L277.5,159.1 L278.5,180.3 L263.2,180.8Z M-44.3,290.6 L-29.1,299.4 L-33.6,317.8 L-49.1,309.0Z M-29.1,299.4 L-13.3,307.6 L-17.6,326.2 L-33.6,317.8Z M-13.3,307.6 L2.9,315.4 L-1.1,334.1 L-17.6,326.2Z M2.9,315.4 L19.6,322.7 L15.9,341.5 L-1.1,334.1Z M19.6,322.7 L36.8,329.5 L33.3,348.4 L15.9,341.5Z M36.8,329.5 L54.4,335.8 L51.2,354.8 L33.3,348.4Z M54.4,335.8 L72.4,341.5 L69.5,360.6 L51.2,354.8Z M72.4,341.5 L90.7,346.7 L88.1,365.9 L69.5,360.6Z M-49.1,309.0 L-33.6,317.8 L-37.6,336.0 L-53.3,327.0Z M-33.6,317.8 L-17.6,326.2 L-21.4,344.5 L-37.6,336.0Z M-17.6,326.2 L-1.1,334.1 L-4.7,352.6 L-21.4,344.5Z M-1.1,334.1 L15.9,341.5 L12.6,360.1 L-4.7,352.6Z M15.9,341.5 L33.3,348.4 L30.2,367.1 L12.6,360.1Z M33.3,348.4 L51.2,354.8 L48.4,373.5 L30.2,367.1Z M51.2,354.8 L69.5,360.6 L66.9,379.4 L48.4,373.5Z M69.5,360.6 L88.1,365.9 L85.8,384.8 L66.9,379.4Z M-53.3,327.0 L-37.6,336.0 L-41.1,354.0 L-56.9,344.9Z M-37.6,336.0 L-21.4,344.5 L-24.7,362.6 L-41.1,354.0Z M-21.4,344.5 L-4.7,352.6 L-7.7,370.7 L-24.7,362.6Z M-4.7,352.6 L12.6,360.1 L9.7,378.3 L-7.7,370.7Z M12.6,360.1 L30.2,367.1 L27.6,385.4 L9.7,378.3Z M30.2,367.1 L48.4,373.5 L45.9,391.9 L27.6,385.4Z M48.4,373.5 L66.9,379.4 L64.7,397.9 L45.9,391.9Z M66.9,379.4 L85.8,384.8 L83.8,403.3 L64.7,397.9Z M112.0,331.7 L130.6,335.7 L128.3,355.4 L109.4,351.3Z M130.6,335.7 L149.4,339.2 L147.4,358.9 L128.3,355.4Z M149.4,339.2 L168.4,342.1 L166.8,361.9 L147.4,358.9Z M168.4,342.1 L187.6,344.4 L186.3,364.2 L166.8,361.9Z M187.6,344.4 L206.9,346.1 L206.0,366.0 L186.3,364.2Z"/>

<use href="#basemap"/>
</g>
<rect x="0" y="0" width="511.5" height="346.0" fill="none" stroke="#000" stroke-width="4" stroke-linejoin="round"/>
<g transform="translate(0,-5.0) scale(1,1.04)"><text x="-3.6" y="0" font-size="35.5">Phase 5</text><text x="513.9" y="0" font-size="35.6" text-anchor="end">61 events</text></g>
</g>
<g transform="translate(570.1,587.2)">
<g clip-path="url(#pc)">
<path fill="#FFFFC8" stroke="#ffffff" stroke-opacity=".12" stroke-width=".5" d="M39.1,-28.6 L45.1,-22.2 L30.1,-7.1 L23.8,-13.9Z M45.1,-22.2 L51.4,-16.0 L36.9,-0.4 L30.1,-7.1Z M51.4,-16.0 L58.1,-10.0 L44.1,6.0 L36.9,-0.4Z M58.1,-10.0 L65.2,-4.2 L51.7,12.2 L44.1,6.0Z M65.2,-4.2 L72.7,1.3 L59.7,18.2 L51.7,12.2Z M72.7,1.3 L80.5,6.7 L68.1,23.9 L59.7,18.2Z M80.5,6.7 L88.6,11.8 L76.8,29.4 L68.1,23.9Z M88.6,11.8 L97.1,16.6 L85.8,34.6 L76.8,29.4Z M97.1,16.6 L105.8,21.2 L95.2,39.5 L85.8,34.6Z M105.8,21.2 L114.9,25.6 L104.9,44.1 L95.2,39.5Z M76.8,29.4 L85.8,34.6 L74.9,52.8 L65.3,47.2Z M85.8,34.6 L95.2,39.5 L84.9,58.0 L74.9,52.8Z M95.2,39.5 L104.9,44.1 L95.2,63.0 L84.9,58.0Z M104.9,44.1 L114.9,48.5 L105.8,67.6 L95.2,63.0Z M114.9,48.5 L125.1,52.5 L116.7,71.9 L105.8,67.6Z M125.1,52.5 L135.6,56.3 L127.9,75.9 L116.7,71.9Z M74.9,52.8 L84.9,58.0 L74.9,76.8 L64.4,71.2Z M84.9,58.0 L95.2,63.0 L85.9,82.0 L74.9,76.8Z M95.2,63.0 L105.8,67.6 L97.1,86.9 L85.9,82.0Z M105.8,67.6 L116.7,71.9 L108.6,91.5 L97.1,86.9Z M116.7,71.9 L127.9,75.9 L120.4,95.7 L108.6,91.5Z M127.9,75.9 L139.3,79.5 L132.5,99.5 L120.4,95.7Z M74.9,76.8 L85.9,82.0 L76.8,101.3 L65.3,95.7Z M85.9,82.0 L97.1,86.9 L88.6,106.4 L76.8,101.3Z M97.1,86.9 L108.6,91.5 L100.8,111.2 L88.6,106.4Z M108.6,91.5 L120.4,95.7 L113.2,115.7 L100.8,111.2Z"/>
<path fill="#D2F5FF" stroke="#ffffff" stroke-opacity=".12" stroke-width=".5" d="M108.5,246.7 L125.1,250.9 L121.4,271.4 L104.3,267.1Z M87.5,262.4 L104.3,267.1 L100.5,287.3 L83.3,282.5Z M104.3,267.1 L121.4,271.4 L118.0,291.7 L100.5,287.3Z M121.4,271.4 L138.8,275.1 L135.8,295.6 L118.0,291.7Z M83.3,282.5 L100.5,287.3 L96.9,307.4 L79.3,302.4Z M100.5,287.3 L118.0,291.7 L114.9,311.8 L96.9,307.4Z M118.0,291.7 L135.8,295.6 L133.1,315.8 L114.9,311.8Z M373.4,188.8 L388.4,185.0 L393.4,205.7 L377.8,209.5Z M388.4,185.0 L403.2,180.8 L408.7,201.3 L393.4,205.7Z M403.2,180.8 L417.7,176.2 L423.7,196.5 L408.7,201.3Z M417.7,176.2 L431.9,171.2 L438.4,191.3 L423.7,196.5Z M377.8,209.5 L393.4,205.7 L398.1,226.2 L381.9,230.2Z M393.4,205.7 L408.7,201.3 L413.9,221.7 L398.1,226.2Z M408.7,201.3 L423.7,196.5 L429.5,216.8 L413.9,221.7Z M423.7,196.5 L438.4,191.3 L444.7,211.3 L429.5,216.8Z M438.4,191.3 L452.8,185.6 L459.5,205.5 L444.7,211.3Z M452.8,185.6 L466.8,179.5 L474.0,199.1 L459.5,205.5Z M365.6,233.8 L381.9,230.2 L385.8,250.9 L369.0,254.5Z M381.9,230.2 L398.1,226.2 L402.5,246.7 L385.8,250.9Z M398.1,226.2 L413.9,221.7 L418.8,242.1 L402.5,246.7Z M413.9,221.7 L429.5,216.8 L434.9,237.0 L418.8,242.1Z M429.5,216.8 L444.7,211.3 L450.6,231.4 L434.9,237.0Z M444.7,211.3 L459.5,205.5 L465.9,225.3 L450.6,231.4Z M459.5,205.5 L474.0,199.1 L480.8,218.8 L465.9,225.3Z M474.0,199.1 L488.1,192.4 L495.3,211.8 L480.8,218.8Z M369.0,254.5 L385.8,250.9 L389.5,271.4 L372.2,275.1Z M385.8,250.9 L402.5,246.7 L406.6,267.1 L389.5,271.4Z M402.5,246.7 L418.8,242.1 L423.4,262.3 L406.6,267.1Z M418.8,242.1 L434.9,237.0 L439.9,257.1 L423.4,262.3Z M434.9,237.0 L450.6,231.4 L456.1,251.3 L439.9,257.1Z M450.6,231.4 L465.9,225.3 L471.8,245.1 L456.1,251.3Z M465.9,225.3 L480.8,218.8 L487.2,238.4 L471.8,245.1Z M480.8,218.8 L495.3,211.8 L502.1,231.2 L487.2,238.4Z M354.6,278.3 L372.2,275.1 L375.2,295.5 L357.1,298.8Z M372.2,275.1 L389.5,271.4 L392.9,291.7 L375.2,295.5Z M389.5,271.4 L406.6,267.1 L410.5,287.3 L392.9,291.7Z M406.6,267.1 L423.4,262.3 L427.7,282.4 L410.5,287.3Z M423.4,262.3 L439.9,257.1 L444.6,277.0 L427.7,282.4Z M439.9,257.1 L456.1,251.3 L461.2,271.1 L444.6,277.0Z M357.1,298.8 L375.2,295.5 L377.9,315.8 L359.5,319.1Z M375.2,295.5 L392.9,291.7 L396.1,311.8 L377.9,315.8Z M392.9,291.7 L410.5,287.3 L414.0,307.4 L396.1,311.8Z M410.5,287.3 L427.7,282.4 L431.7,302.3 L414.0,307.4Z M427.7,282.4 L444.6,277.0 L449.0,296.8 L431.7,302.3Z M444.6,277.0 L461.2,271.1 L465.9,290.8 L449.0,296.8Z M359.5,319.1 L377.9,315.8 L380.4,335.7 L361.6,339.2Z M377.9,315.8 L396.1,311.8 L399.0,331.7 L380.4,335.7Z M396.1,311.8 L414.0,307.4 L417.3,327.1 L399.0,331.7Z M414.0,307.4 L431.7,302.3 L435.3,322.0 L417.3,327.1Z M431.7,302.3 L449.0,296.8 L453.0,316.4 L435.3,322.0Z M477.6,348.4 L495.1,341.5 L498.4,360.1 L480.7,367.0Z M495.1,341.5 L512.1,334.1 L515.6,352.5 L498.4,360.1Z M512.1,334.1 L528.6,326.2 L532.4,344.5 L515.6,352.5Z M528.6,326.2 L544.6,317.8 L548.6,336.0 L532.4,344.5Z M544.6,317.8 L560.0,308.9 L564.2,327.0 L548.6,336.0Z M480.7,367.0 L498.4,360.1 L501.3,378.3 L483.4,385.3Z M498.4,360.1 L515.6,352.5 L518.7,370.7 L501.3,378.3Z M515.6,352.5 L532.4,344.5 L535.6,362.5 L518.7,370.7Z M532.4,344.5 L548.6,336.0 L552.0,353.9 L535.6,362.5Z M548.6,336.0 L564.2,327.0 L567.9,344.8 L552.0,353.9Z"/>

<use href="#basemap"/>
</g>
<rect x="0" y="0" width="511.5" height="346.0" fill="none" stroke="#000" stroke-width="4" stroke-linejoin="round"/>
<g transform="translate(0,-5.0) scale(1,1.04)"><text x="-3.6" y="0" font-size="35.5">Phase 6</text><text x="513.9" y="0" font-size="35.6" text-anchor="end">51 events</text></g>
</g>
<g transform="translate(1132.7,587.2)">
<g clip-path="url(#pc)">
<path fill="#D2F5FF" stroke="#ffffff" stroke-opacity=".12" stroke-width=".5" d="M124.2,29.6 L133.8,33.4 L125.1,52.5 L114.9,48.5Z M66.3,-31.2 L72.5,-25.7 L58.1,-10.0 L51.4,-16.0Z M72.5,-25.7 L79.1,-20.3 L65.2,-4.2 L58.1,-10.0Z M79.1,-20.3 L86.0,-15.1 L72.7,1.3 L65.2,-4.2Z M86.0,-15.1 L93.2,-10.2 L80.5,6.7 L72.7,1.3Z M93.2,-10.2 L100.8,-5.5 L88.6,11.8 L80.5,6.7Z M100.8,-5.5 L108.6,-1.0 L97.1,16.6 L88.6,11.8Z M108.6,-1.0 L116.7,3.3 L105.8,21.2 L97.1,16.6Z M81.5,-46.0 L87.2,-40.9 L72.5,-25.7 L66.3,-31.2Z M87.2,-40.9 L93.3,-36.0 L79.1,-20.3 L72.5,-25.7Z M93.3,-36.0 L99.6,-31.2 L86.0,-15.1 L79.1,-20.3Z M99.6,-31.2 L106.3,-26.7 L93.2,-10.2 L86.0,-15.1Z M106.3,-26.7 L113.2,-22.3 L100.8,-5.5 L93.2,-10.2Z M113.2,-22.3 L120.4,-18.2 L108.6,-1.0 L100.8,-5.5Z M120.4,-18.2 L127.9,-14.3 L116.7,3.3 L108.6,-1.0Z M97.0,-60.4 L102.3,-55.8 L87.2,-40.9 L81.5,-46.0Z M102.3,-55.8 L107.8,-51.3 L93.3,-36.0 L87.2,-40.9Z M107.8,-51.3 L113.6,-46.9 L99.6,-31.2 L93.3,-36.0Z M113.6,-46.9 L119.6,-42.8 L106.3,-26.7 L99.6,-31.2Z M119.6,-42.8 L125.9,-38.8 L113.2,-22.3 L106.3,-26.7Z M125.9,-38.8 L132.5,-35.1 L120.4,-18.2 L113.2,-22.3Z M132.5,-35.1 L139.3,-31.5 L127.9,-14.3 L120.4,-18.2Z M470.2,310.2 L487.1,303.6 L491.3,322.7 L474.1,329.5Z M487.1,303.6 L503.5,296.4 L508.0,315.4 L491.3,322.7Z M503.5,296.4 L519.5,288.8 L524.3,307.6 L508.0,315.4Z M519.5,288.8 L534.9,280.6 L540.0,299.3 L524.3,307.6Z M534.9,280.6 L549.9,272.1 L555.2,290.6 L540.0,299.3Z M438.6,341.5 L456.6,335.7 L459.8,354.8 L441.5,360.6Z M456.6,335.7 L474.1,329.5 L477.6,348.4 L459.8,354.8Z M474.1,329.5 L491.3,322.7 L495.1,341.5 L477.6,348.4Z M491.3,322.7 L508.0,315.4 L512.1,334.1 L495.1,341.5Z M508.0,315.4 L524.3,307.6 L528.6,326.2 L512.1,334.1Z M524.3,307.6 L540.0,299.3 L544.6,317.8 L528.6,326.2Z M540.0,299.3 L555.2,290.6 L560.0,308.9 L544.6,317.8Z"/>
<path fill="#A0D2FF" stroke="#ffffff" stroke-opacity=".12" stroke-width=".5" d="M150.9,-48.3 L157.2,-45.2 L146.3,-28.1 L139.3,-31.5Z M157.2,-45.2 L163.7,-42.4 L153.6,-25.0 L146.3,-28.1Z M163.7,-42.4 L170.4,-39.8 L161.0,-22.0 L153.6,-25.0Z M170.4,-39.8 L177.3,-37.3 L168.6,-19.3 L161.0,-22.0Z M177.3,-37.3 L184.3,-35.1 L176.3,-16.8 L168.6,-19.3Z M184.3,-35.1 L191.4,-33.1 L184.3,-14.6 L176.3,-16.8Z M191.4,-33.1 L198.6,-31.3 L192.3,-12.6 L184.3,-14.6Z M198.6,-31.3 L206.0,-29.7 L200.5,-10.8 L192.3,-12.6Z M206.0,-29.7 L213.4,-28.3 L208.8,-9.3 L200.5,-10.8Z M213.4,-28.3 L221.0,-27.2 L217.1,-8.0 L208.8,-9.3Z M139.3,-31.5 L146.3,-28.1 L135.6,-10.6 L127.9,-14.3Z M146.3,-28.1 L153.6,-25.0 L143.5,-7.1 L135.6,-10.6Z M153.6,-25.0 L161.0,-22.0 L151.7,-3.9 L143.5,-7.1Z M161.0,-22.0 L168.6,-19.3 L160.0,-0.9 L151.7,-3.9Z M168.6,-19.3 L176.3,-16.8 L168.6,1.8 L160.0,-0.9Z M176.3,-16.8 L184.3,-14.6 L177.3,4.3 L168.6,1.8Z M184.3,-14.6 L192.3,-12.6 L186.1,6.5 L177.3,4.3Z M192.3,-12.6 L200.5,-10.8 L195.1,8.4 L186.1,6.5Z M200.5,-10.8 L208.8,-9.3 L204.2,10.1 L195.1,8.4Z M208.8,-9.3 L217.1,-8.0 L213.4,11.5 L204.2,10.1Z M127.9,-14.3 L135.6,-10.6 L125.1,7.3 L116.7,3.3Z M135.6,-10.6 L143.5,-7.1 L133.8,11.1 L125.1,7.3Z M143.5,-7.1 L151.7,-3.9 L142.6,14.6 L133.8,11.1Z M151.7,-3.9 L160.0,-0.9 L151.7,17.8 L142.6,14.6Z M160.0,-0.9 L168.6,1.8 L161.0,20.8 L151.7,17.8Z M168.6,1.8 L177.3,4.3 L170.4,23.5 L161.0,20.8Z M177.3,4.3 L186.1,6.5 L180.1,25.9 L170.4,23.5Z M186.1,6.5 L195.1,8.4 L189.8,28.0 L180.1,25.9Z M195.1,8.4 L204.2,10.1 L199.7,29.8 L189.8,28.0Z M204.2,10.1 L213.4,11.5 L209.7,31.3 L199.7,29.8Z M213.4,11.5 L222.6,12.6 L219.8,32.5 L209.7,31.3Z M116.7,3.3 L125.1,7.3 L114.9,25.6 L105.8,21.2Z M125.1,7.3 L133.8,11.1 L124.2,29.6 L114.9,25.6Z M133.8,11.1 L142.6,14.6 L133.8,33.4 L124.2,29.6Z M142.6,14.6 L151.7,17.8 L143.6,36.9 L133.8,33.4Z M151.7,17.8 L161.0,20.8 L153.6,40.1 L143.6,36.9Z M161.0,20.8 L170.4,23.5 L163.8,43.0 L153.6,40.1Z M170.4,23.5 L180.1,25.9 L174.1,45.6 L163.8,43.0Z M180.1,25.9 L189.8,28.0 L184.7,47.8 L174.1,45.6Z M189.8,28.0 L199.7,29.8 L195.3,49.8 L184.7,47.8Z M199.7,29.8 L209.7,31.3 L206.1,51.4 L195.3,49.8Z M209.7,31.3 L219.8,32.5 L217.0,52.7 L206.1,51.4Z M219.8,32.5 L229.9,33.4 L227.9,53.7 L217.0,52.7Z M229.9,33.4 L240.1,34.0 L238.9,54.4 L227.9,53.7Z M133.8,33.4 L143.6,36.9 L135.6,56.3 L125.1,52.5Z M143.6,36.9 L153.6,40.1 L146.3,59.7 L135.6,56.3Z M153.6,40.1 L163.8,43.0 L157.3,62.8 L146.3,59.7Z M163.8,43.0 L174.1,45.6 L168.4,65.5 L157.3,62.8Z M174.1,45.6 L184.7,47.8 L179.6,68.0 L168.4,65.5Z M184.7,47.8 L195.3,49.8 L191.1,70.1 L179.6,68.0Z M195.3,49.8 L206.1,51.4 L202.6,71.8 L191.1,70.1Z M206.1,51.4 L217.0,52.7 L214.2,73.2 L202.6,71.8Z M217.0,52.7 L227.9,53.7 L226.0,74.3 L214.2,73.2Z M227.9,53.7 L238.9,54.4 L237.7,75.0 L226.0,74.3Z M238.9,54.4 L250.0,54.7 L249.6,75.3 L237.7,75.0Z M135.6,56.3 L146.3,59.7 L139.3,79.5 L127.9,75.9Z M146.3,59.7 L157.3,62.8 L150.9,82.8 L139.3,79.5Z M157.3,62.8 L168.4,65.5 L162.8,85.7 L150.9,82.8Z M168.4,65.5 L179.6,68.0 L174.8,88.3 L162.8,85.7Z M179.6,68.0 L191.1,70.1 L186.9,90.6 L174.8,88.3Z M191.1,70.1 L202.6,71.8 L199.2,92.4 L186.9,90.6Z M202.6,71.8 L214.2,73.2 L211.6,93.9 L199.2,92.4Z M214.2,73.2 L226.0,74.3 L224.1,95.0 L211.6,93.9Z M226.0,74.3 L237.7,75.0 L236.6,95.8 L224.1,95.0Z M237.7,75.0 L249.6,75.3 L249.2,96.2 L236.6,95.8Z M249.6,75.3 L261.4,75.3 L261.8,96.2 L249.2,96.2Z M150.9,82.8 L162.8,85.7 L157.3,106.1 L144.8,103.0Z M162.8,85.7 L174.8,88.3 L170.0,108.9 L157.3,106.1Z M174.8,88.3 L186.9,90.6 L182.9,111.2 L170.0,108.9Z M186.9,90.6 L199.2,92.4 L195.9,113.2 L182.9,111.2Z M199.2,92.4 L211.6,93.9 L209.0,114.8 L195.9,113.2Z M211.6,93.9 L224.1,95.0 L222.2,116.0 L209.0,114.8Z M224.1,95.0 L236.6,95.8 L235.5,116.8 L222.2,116.0Z M236.6,95.8 L249.2,96.2 L248.8,117.2 L235.5,116.8Z M249.2,96.2 L261.8,96.2 L262.1,117.2 L248.8,117.2Z M222.2,116.0 L235.5,116.8 L234.4,137.9 L220.5,137.0Z M235.5,116.8 L248.8,117.2 L248.5,138.3 L234.4,137.9Z M248.8,117.2 L262.1,117.2 L262.5,138.3 L248.5,138.3Z"/>
<path fill="#FFFFC8" stroke="#ffffff" stroke-opacity=".12" stroke-width=".5" d="M-19.3,90.6 L-9.4,98.7 L-20.2,116.6 L-30.5,108.2Z M-9.4,98.7 L0.9,106.4 L-9.4,124.7 L-20.2,116.6Z M0.9,106.4 L11.8,113.9 L1.9,132.4 L-9.4,124.7Z M11.8,113.9 L23.2,121.0 L13.7,139.8 L1.9,132.4Z M-30.5,108.2 L-20.2,116.6 L-30.5,134.7 L-41.2,126.0Z M-20.2,116.6 L-9.4,124.7 L-19.3,143.1 L-30.5,134.7Z M-9.4,124.7 L1.9,132.4 L-7.6,151.1 L-19.3,143.1Z M1.9,132.4 L13.7,139.8 L4.7,158.8 L-7.6,151.1Z M13.7,139.8 L25.9,146.9 L17.4,166.1 L4.7,158.8Z M-41.2,126.0 L-30.5,134.7 L-40.3,152.8 L-51.3,143.8Z M-30.5,134.7 L-19.3,143.1 L-28.7,161.5 L-40.3,152.8Z M-19.3,143.1 L-7.6,151.1 L-16.5,169.8 L-28.7,161.5Z M-7.6,151.1 L4.7,158.8 L-3.9,177.7 L-16.5,169.8Z M4.7,158.8 L17.4,166.1 L9.3,185.3 L-3.9,177.7Z M17.4,166.1 L30.5,173.0 L22.9,192.4 L9.3,185.3Z M334.6,260.3 L351.9,257.6 L354.6,278.3 L336.8,281.0Z M351.9,257.6 L369.0,254.5 L372.2,275.1 L354.6,278.3Z M336.8,281.0 L354.6,278.3 L357.1,298.8 L338.9,301.6Z"/>
<path fill="none" stroke="#0000E6" stroke-width="2.6" stroke-linejoin="round" d="M205.0,94.0 L218.4,96.0 L233.1,110.1 L239.7,126.1 L227.0,142.2 L213.7,139.5 L201.0,129.5 L195.6,122.8 L193.6,102.1Z"/>
<use href="#basemap"/>
</g>
<rect x="0" y="0" width="511.5" height="346.0" fill="none" stroke="#000" stroke-width="4" stroke-linejoin="round"/>
<g transform="translate(0,-5.0) scale(1,1.04)"><text x="-3.6" y="0" font-size="35.5">Phase 7</text><text x="513.9" y="0" font-size="35.6" text-anchor="end">38 events</text></g>
</g>
<g transform="translate(1695.3,587.2)">
<g clip-path="url(#pc)">
<path fill="#D2F5FF" stroke="#ffffff" stroke-opacity=".12" stroke-width=".5" d="M108.6,-1.0 L116.7,3.3 L105.8,21.2 L97.1,16.6Z M116.7,3.3 L125.1,7.3 L114.9,25.6 L105.8,21.2Z M125.1,7.3 L133.8,11.1 L124.2,29.6 L114.9,25.6Z M105.8,21.2 L114.9,25.6 L104.9,44.1 L95.2,39.5Z M114.9,25.6 L124.2,29.6 L114.9,48.5 L104.9,44.1Z M104.9,44.1 L114.9,48.5 L105.8,67.6 L95.2,63.0Z"/>
<path fill="#A0D2FF" stroke="#ffffff" stroke-opacity=".12" stroke-width=".5" d="M133.8,11.1 L142.6,14.6 L133.8,33.4 L124.2,29.6Z M142.6,14.6 L151.7,17.8 L143.6,36.9 L133.8,33.4Z M151.7,17.8 L161.0,20.8 L153.6,40.1 L143.6,36.9Z M161.0,20.8 L170.4,23.5 L163.8,43.0 L153.6,40.1Z M170.4,23.5 L180.1,25.9 L174.1,45.6 L163.8,43.0Z M180.1,25.9 L189.8,28.0 L184.7,47.8 L174.1,45.6Z M189.8,28.0 L199.7,29.8 L195.3,49.8 L184.7,47.8Z M124.2,29.6 L133.8,33.4 L125.1,52.5 L114.9,48.5Z M133.8,33.4 L143.6,36.9 L135.6,56.3 L125.1,52.5Z M143.6,36.9 L153.6,40.1 L146.3,59.7 L135.6,56.3Z M153.6,40.1 L163.8,43.0 L157.3,62.8 L146.3,59.7Z M163.8,43.0 L174.1,45.6 L168.4,65.5 L157.3,62.8Z M174.1,45.6 L184.7,47.8 L179.6,68.0 L168.4,65.5Z M184.7,47.8 L195.3,49.8 L191.1,70.1 L179.6,68.0Z M195.3,49.8 L206.1,51.4 L202.6,71.8 L191.1,70.1Z M206.1,51.4 L217.0,52.7 L214.2,73.2 L202.6,71.8Z M114.9,48.5 L125.1,52.5 L116.7,71.9 L105.8,67.6Z M125.1,52.5 L135.6,56.3 L127.9,75.9 L116.7,71.9Z M135.6,56.3 L146.3,59.7 L139.3,79.5 L127.9,75.9Z M146.3,59.7 L157.3,62.8 L150.9,82.8 L139.3,79.5Z M157.3,62.8 L168.4,65.5 L162.8,85.7 L150.9,82.8Z M168.4,65.5 L179.6,68.0 L174.8,88.3 L162.8,85.7Z M179.6,68.0 L191.1,70.1 L186.9,90.6 L174.8,88.3Z M191.1,70.1 L202.6,71.8 L199.2,92.4 L186.9,90.6Z M202.6,71.8 L214.2,73.2 L211.6,93.9 L199.2,92.4Z M214.2,73.2 L226.0,74.3 L224.1,95.0 L211.6,93.9Z M199.2,92.4 L211.6,93.9 L209.0,114.8 L195.9,113.2Z"/>
<path fill="#FFFFC8" stroke="#ffffff" stroke-opacity=".12" stroke-width=".5" d="M-28.7,161.5 L-16.5,169.8 L-25.0,188.5 L-37.5,180.0Z M-16.5,169.8 L-3.9,177.7 L-11.9,196.7 L-25.0,188.5Z M-3.9,177.7 L9.3,185.3 L1.6,204.5 L-11.9,196.7Z M9.3,185.3 L22.9,192.4 L15.7,211.9 L1.6,204.5Z M-37.5,180.0 L-25.0,188.5 L-32.9,207.3 L-45.7,198.5Z M-25.0,188.5 L-11.9,196.7 L-19.5,215.7 L-32.9,207.3Z M-11.9,196.7 L1.6,204.5 L-5.5,223.7 L-19.5,215.7Z M1.6,204.5 L15.7,211.9 L8.9,231.3 L-5.5,223.7Z M15.7,211.9 L30.2,218.8 L23.8,238.4 L8.9,231.3Z M-45.7,198.5 L-32.9,207.3 L-40.2,226.0 L-53.4,216.9Z M-32.9,207.3 L-19.5,215.7 L-26.5,234.6 L-40.2,226.0Z M-19.5,215.7 L-5.5,223.7 L-12.2,242.8 L-26.5,234.6Z M-5.5,223.7 L8.9,231.3 L2.6,250.6 L-12.2,242.8Z M8.9,231.3 L23.8,238.4 L17.9,257.9 L2.6,250.6Z M176.4,260.3 L193.8,262.4 L192.1,283.2 L174.1,281.0Z M193.8,262.4 L211.3,264.0 L210.1,284.8 L192.1,283.2Z M156.4,278.3 L174.1,281.0 L172.1,301.6 L153.8,298.9Z M174.1,281.0 L192.1,283.2 L190.4,303.8 L172.1,301.6Z M245.9,327.7 L265.0,327.7 L265.2,347.9 L245.8,347.9Z M265.0,327.7 L284.1,327.1 L284.7,347.3 L265.2,347.9Z M284.1,327.1 L303.1,325.9 L304.1,346.1 L284.7,347.3Z M245.8,347.9 L265.2,347.9 L265.4,367.8 L245.6,367.8Z M265.2,347.9 L284.7,347.3 L285.2,367.2 L265.4,367.8Z M284.7,347.3 L304.1,346.1 L305.0,366.0 L285.2,367.2Z M245.6,367.8 L265.4,367.8 L265.6,387.3 L245.4,387.3Z M265.4,367.8 L285.2,367.2 L285.7,386.7 L265.6,387.3Z M285.2,367.2 L305.0,366.0 L305.8,385.5 L285.7,386.7Z M381.9,230.2 L398.1,226.2 L402.5,246.7 L385.8,250.9Z M351.9,257.6 L369.0,254.5 L372.2,275.1 L354.6,278.3Z M369.0,254.5 L385.8,250.9 L389.5,271.4 L372.2,275.1Z M336.8,281.0 L354.6,278.3 L357.1,298.8 L338.9,301.6Z M410.2,-5.5 L417.7,-10.2 L430.4,6.7 L422.3,11.8Z M417.7,-10.2 L424.9,-15.2 L438.3,1.3 L430.4,6.7Z M424.9,-15.2 L431.9,-20.3 L445.7,-4.3 L438.3,1.3Z M397.7,-22.4 L404.6,-26.7 L417.7,-10.2 L410.2,-5.5Z M404.6,-26.7 L411.3,-31.3 L424.9,-15.2 L417.7,-10.2Z M411.3,-31.3 L417.7,-36.0 L431.9,-20.3 L424.9,-15.2Z"/>
<path fill="none" stroke="#FF0000" stroke-width="2.6" stroke-linejoin="round" d="M359.1,0.1 L356.7,5.4 L357.3,9.0 L359.9,12.5 L363.5,17.2 L367.6,21.9 L371.1,24.5 L375.8,25.4 L381.1,24.5 L386.4,22.5 L391.7,19.5 L396.9,15.7 L399.9,11.9 L401.3,7.8 L401.3,4.3 L400.5,0.1"/>
<use href="#basemap"/>
</g>
<rect x="0" y="0" width="511.5" height="346.0" fill="none" stroke="#000" stroke-width="4" stroke-linejoin="round"/>
<g transform="translate(0,-5.0) scale(1,1.04)"><text x="-3.6" y="0" font-size="35.5">Phase 8</text><text x="513.9" y="0" font-size="35.6" text-anchor="end">35 events</text></g>
</g>
<rect x="270.9" y="1021.4" width="98.0" height="44.8" fill="#8421F0" stroke="#000" stroke-width="2"/>
<rect x="368.9" y="1021.4" width="98.0" height="44.8" fill="#000096" stroke="#000" stroke-width="2"/>
<rect x="466.9" y="1021.4" width="98.0" height="44.8" fill="#0000CD" stroke="#000" stroke-width="2"/>
<rect x="564.9" y="1021.4" width="98.0" height="44.8" fill="#1E90FF" stroke="#000" stroke-width="2"/>
<rect x="662.9" y="1021.4" width="98.0" height="44.8" fill="#00BFFF" stroke="#000" stroke-width="2"/>
<rect x="760.9" y="1021.4" width="98.0" height="44.8" fill="#A0D2FF" stroke="#000" stroke-width="2"/>
<rect x="858.9" y="1021.4" width="98.0" height="44.8" fill="#D2F5FF" stroke="#000" stroke-width="2"/>
<rect x="956.9" y="1021.4" width="98.0" height="44.8" fill="#FFFFC8" stroke="#000" stroke-width="2"/>
<rect x="1054.9" y="1021.4" width="98.0" height="44.8" fill="#FFE132" stroke="#000" stroke-width="2"/>
<rect x="1152.9" y="1021.4" width="98.0" height="44.8" fill="#FFAA00" stroke="#000" stroke-width="2"/>
<rect x="1250.9" y="1021.4" width="98.0" height="44.8" fill="#FF6E00" stroke="#000" stroke-width="2"/>
<rect x="1348.9" y="1021.4" width="98.0" height="44.8" fill="#C80000" stroke="#000" stroke-width="2"/>
<rect x="1446.9" y="1021.4" width="98.0" height="44.8" fill="#A02323" stroke="#000" stroke-width="2"/>
<rect x="1544.9" y="1021.4" width="98.0" height="44.8" fill="#FF69B4" stroke="#000" stroke-width="2"/>
<g transform="translate(0,1115.8) scale(1,1.04)"><text x="368.9" y="0" font-size="52" text-anchor="middle">-6</text><text x="466.9" y="0" font-size="52" text-anchor="middle">-5</text><text x="564.9" y="0" font-size="52" text-anchor="middle">-4</text><text x="662.9" y="0" font-size="52" text-anchor="middle">-3</text><text x="760.9" y="0" font-size="52" text-anchor="middle">-2</text><text x="858.9" y="0" font-size="52" text-anchor="middle">-1</text><text x="956.9" y="0" font-size="52" text-anchor="middle">0</text><text x="1054.9" y="0" font-size="52" text-anchor="middle">1</text><text x="1152.9" y="0" font-size="52" text-anchor="middle">2</text><text x="1250.9" y="0" font-size="52" text-anchor="middle">3</text><text x="1348.9" y="0" font-size="52" text-anchor="middle">4</text><text x="1446.9" y="0" font-size="52" text-anchor="middle">5</text><text x="1544.9" y="0" font-size="52" text-anchor="middle">6</text></g>
<g transform="translate(0,1082.5) scale(1,1.04)"><text x="1758.2" y="0" font-size="50.4">degC</text></g>
</svg>
</body></html>
